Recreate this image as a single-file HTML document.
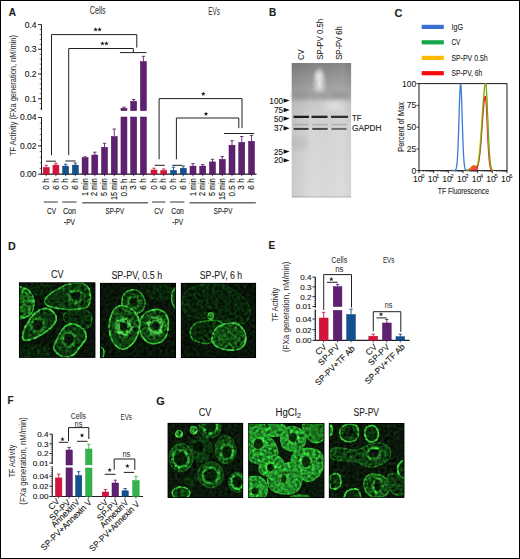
<!DOCTYPE html>
<html><head><meta charset="utf-8"><title>Figure</title>
<style>
html,body{margin:0;padding:0;background:#fff;}
svg{display:block;font-family:"Liberation Sans", sans-serif;}
text{stroke:currentColor;stroke-width:0.12px;}
text.lt{stroke:none;fill:#2a2a2a;}
text.rg{stroke:#1a1a1a;stroke-width:0.08px;fill:#1a1a1a;}
</style></head>
<body>
<svg width="520" height="559" viewBox="0 0 520 559" font-family='"Liberation Sans", sans-serif' fill="#231f20">
<rect x="0" y="0" width="520" height="559" fill="#fff"/>
<defs>
<filter id="soft" x="-30%" y="-30%" width="160%" height="160%"><feGaussianBlur stdDeviation="0.6"/></filter>
<filter id="soft2" x="-30%" y="-30%" width="160%" height="160%"><feGaussianBlur stdDeviation="1.3"/></filter>
</defs>
<text x="8.7" y="15.6" font-size="10" font-weight="bold">A</text>
<text x="89.7" y="14.4" font-size="10.4" textLength="16" lengthAdjust="spacingAndGlyphs" class="lt">Cells</text>
<text x="208.2" y="14.6" font-size="10.4" textLength="11.6" lengthAdjust="spacingAndGlyphs" class="lt">EVs</text>
<line x1="41.5" y1="24.6" x2="41.5" y2="110.2" stroke="#231f20" stroke-width="1.0"/>
<line x1="41.5" y1="117.3" x2="41.5" y2="174.4" stroke="#231f20" stroke-width="1.0"/>
<line x1="38" y1="24.6" x2="41.5" y2="24.6" stroke="#231f20" stroke-width="0.9"/>
<text x="36.5" y="27.5" font-size="8.5" text-anchor="end">0.4</text>
<line x1="38" y1="49.3" x2="41.5" y2="49.3" stroke="#231f20" stroke-width="0.9"/>
<text x="36.5" y="52.2" font-size="8.5" text-anchor="end">0.3</text>
<line x1="38" y1="74" x2="41.5" y2="74" stroke="#231f20" stroke-width="0.9"/>
<text x="36.5" y="76.9" font-size="8.5" text-anchor="end">0.2</text>
<line x1="38" y1="98.7" x2="41.5" y2="98.7" stroke="#231f20" stroke-width="0.9"/>
<text x="36.5" y="101.6" font-size="8.5" text-anchor="end">0.1</text>
<line x1="39.7" y1="24.6" x2="41.5" y2="24.6" stroke="#231f20" stroke-width="0.6"/>
<line x1="39.7" y1="29.54" x2="41.5" y2="29.54" stroke="#231f20" stroke-width="0.6"/>
<line x1="39.7" y1="34.48" x2="41.5" y2="34.48" stroke="#231f20" stroke-width="0.6"/>
<line x1="39.7" y1="39.42" x2="41.5" y2="39.42" stroke="#231f20" stroke-width="0.6"/>
<line x1="39.7" y1="44.36" x2="41.5" y2="44.36" stroke="#231f20" stroke-width="0.6"/>
<line x1="39.7" y1="49.3" x2="41.5" y2="49.3" stroke="#231f20" stroke-width="0.6"/>
<line x1="39.7" y1="54.24" x2="41.5" y2="54.24" stroke="#231f20" stroke-width="0.6"/>
<line x1="39.7" y1="59.18" x2="41.5" y2="59.18" stroke="#231f20" stroke-width="0.6"/>
<line x1="39.7" y1="64.12" x2="41.5" y2="64.12" stroke="#231f20" stroke-width="0.6"/>
<line x1="39.7" y1="69.06" x2="41.5" y2="69.06" stroke="#231f20" stroke-width="0.6"/>
<line x1="39.7" y1="74" x2="41.5" y2="74" stroke="#231f20" stroke-width="0.6"/>
<line x1="39.7" y1="78.94" x2="41.5" y2="78.94" stroke="#231f20" stroke-width="0.6"/>
<line x1="39.7" y1="83.88" x2="41.5" y2="83.88" stroke="#231f20" stroke-width="0.6"/>
<line x1="39.7" y1="88.82" x2="41.5" y2="88.82" stroke="#231f20" stroke-width="0.6"/>
<line x1="39.7" y1="93.76" x2="41.5" y2="93.76" stroke="#231f20" stroke-width="0.6"/>
<line x1="39.7" y1="98.7" x2="41.5" y2="98.7" stroke="#231f20" stroke-width="0.6"/>
<line x1="39.7" y1="103.64" x2="41.5" y2="103.64" stroke="#231f20" stroke-width="0.6"/>
<line x1="39.7" y1="108.58" x2="41.5" y2="108.58" stroke="#231f20" stroke-width="0.6"/>
<line x1="38" y1="117.5" x2="41.5" y2="117.5" stroke="#231f20" stroke-width="0.9"/>
<text x="36.5" y="120.4" font-size="8.5" text-anchor="end">0.04</text>
<line x1="38" y1="145.85" x2="41.5" y2="145.85" stroke="#231f20" stroke-width="0.9"/>
<text x="36.5" y="148.75" font-size="8.5" text-anchor="end">0.02</text>
<line x1="38" y1="174.2" x2="41.5" y2="174.2" stroke="#231f20" stroke-width="0.9"/>
<text x="36.5" y="177.1" font-size="8.5" text-anchor="end">0.00</text>
<line x1="39.7" y1="117.5" x2="41.5" y2="117.5" stroke="#231f20" stroke-width="0.6"/>
<line x1="39.7" y1="123.17" x2="41.5" y2="123.17" stroke="#231f20" stroke-width="0.6"/>
<line x1="39.7" y1="128.84" x2="41.5" y2="128.84" stroke="#231f20" stroke-width="0.6"/>
<line x1="39.7" y1="134.51" x2="41.5" y2="134.51" stroke="#231f20" stroke-width="0.6"/>
<line x1="39.7" y1="140.18" x2="41.5" y2="140.18" stroke="#231f20" stroke-width="0.6"/>
<line x1="39.7" y1="145.85" x2="41.5" y2="145.85" stroke="#231f20" stroke-width="0.6"/>
<line x1="39.7" y1="151.52" x2="41.5" y2="151.52" stroke="#231f20" stroke-width="0.6"/>
<line x1="39.7" y1="157.19" x2="41.5" y2="157.19" stroke="#231f20" stroke-width="0.6"/>
<line x1="39.7" y1="162.86" x2="41.5" y2="162.86" stroke="#231f20" stroke-width="0.6"/>
<line x1="39.7" y1="168.53" x2="41.5" y2="168.53" stroke="#231f20" stroke-width="0.6"/>
<line x1="39.7" y1="174.2" x2="41.5" y2="174.2" stroke="#231f20" stroke-width="0.6"/>
<text x="15.9" y="95.5" font-size="9.6" text-anchor="middle" textLength="121" lengthAdjust="spacingAndGlyphs" transform="rotate(-90 15.9 95.5)" class="lt">TF Activity (FXa generation, nM/min)</text>
<line x1="41.5" y1="174.2" x2="256.5" y2="174.2" stroke="#231f20" stroke-width="1.3"/>
<rect x="43.2" y="167.5" width="6" height="6.7" fill="#d3143c" stroke="#b80f31" stroke-width="0.5"/>
<line x1="46.2" y1="167.5" x2="46.2" y2="165.3" stroke="#d3143c" stroke-width="0.9"/>
<line x1="44.5" y1="165.3" x2="47.9" y2="165.3" stroke="#d3143c" stroke-width="0.9"/>
<line x1="46.2" y1="174.2" x2="46.2" y2="176.2" stroke="#231f20" stroke-width="0.8"/>
<text x="48.8" y="178.3" font-size="8.2" text-anchor="end" transform="rotate(-90 48.8 178.3)">0 h</text>
<rect x="52.92" y="165.1" width="6" height="9.1" fill="#d3143c" stroke="#b80f31" stroke-width="0.5"/>
<line x1="55.92" y1="165.1" x2="55.92" y2="163.3" stroke="#d3143c" stroke-width="0.9"/>
<line x1="54.22" y1="163.3" x2="57.62" y2="163.3" stroke="#d3143c" stroke-width="0.9"/>
<line x1="55.92" y1="174.2" x2="55.92" y2="176.2" stroke="#231f20" stroke-width="0.8"/>
<text x="58.52" y="178.3" font-size="8.2" text-anchor="end" transform="rotate(-90 58.52 178.3)">6 h</text>
<rect x="62.64" y="166.1" width="6" height="8.1" fill="#12508e" stroke="#0c3f73" stroke-width="0.5"/>
<line x1="65.64" y1="166.1" x2="65.64" y2="164.2" stroke="#12508e" stroke-width="0.9"/>
<line x1="63.94" y1="164.2" x2="67.34" y2="164.2" stroke="#12508e" stroke-width="0.9"/>
<line x1="65.64" y1="174.2" x2="65.64" y2="176.2" stroke="#231f20" stroke-width="0.8"/>
<text x="68.24" y="178.3" font-size="8.2" text-anchor="end" transform="rotate(-90 68.24 178.3)">0 h</text>
<rect x="72.36" y="165.1" width="6" height="9.1" fill="#12508e" stroke="#0c3f73" stroke-width="0.5"/>
<line x1="75.36" y1="165.1" x2="75.36" y2="163" stroke="#12508e" stroke-width="0.9"/>
<line x1="73.66" y1="163" x2="77.06" y2="163" stroke="#12508e" stroke-width="0.9"/>
<line x1="75.36" y1="174.2" x2="75.36" y2="176.2" stroke="#231f20" stroke-width="0.8"/>
<text x="77.96" y="178.3" font-size="8.2" text-anchor="end" transform="rotate(-90 77.96 178.3)">6 h</text>
<rect x="82.08" y="157.7" width="6" height="16.5" fill="#5e216f" stroke="#4b0d5e" stroke-width="0.5"/>
<line x1="85.08" y1="157.7" x2="85.08" y2="156.8" stroke="#5e216f" stroke-width="0.9"/>
<line x1="83.38" y1="156.8" x2="86.78" y2="156.8" stroke="#5e216f" stroke-width="0.9"/>
<line x1="85.08" y1="174.2" x2="85.08" y2="176.2" stroke="#231f20" stroke-width="0.8"/>
<text x="87.68" y="178.3" font-size="8.2" text-anchor="end" textLength="17.6" lengthAdjust="spacingAndGlyphs" transform="rotate(-90 87.68 178.3)">1 min</text>
<rect x="91.8" y="155" width="6" height="19.2" fill="#5e216f" stroke="#4b0d5e" stroke-width="0.5"/>
<line x1="94.8" y1="155" x2="94.8" y2="152.2" stroke="#5e216f" stroke-width="0.9"/>
<line x1="93.1" y1="152.2" x2="96.5" y2="152.2" stroke="#5e216f" stroke-width="0.9"/>
<line x1="94.8" y1="174.2" x2="94.8" y2="176.2" stroke="#231f20" stroke-width="0.8"/>
<text x="97.4" y="178.3" font-size="8.2" text-anchor="end" textLength="17.6" lengthAdjust="spacingAndGlyphs" transform="rotate(-90 97.4 178.3)">2 min</text>
<rect x="101.52" y="147.3" width="6" height="26.9" fill="#5e216f" stroke="#4b0d5e" stroke-width="0.5"/>
<line x1="104.52" y1="147.3" x2="104.52" y2="143.3" stroke="#5e216f" stroke-width="0.9"/>
<line x1="102.82" y1="143.3" x2="106.22" y2="143.3" stroke="#5e216f" stroke-width="0.9"/>
<line x1="104.52" y1="174.2" x2="104.52" y2="176.2" stroke="#231f20" stroke-width="0.8"/>
<text x="107.12" y="178.3" font-size="8.2" text-anchor="end" textLength="17.6" lengthAdjust="spacingAndGlyphs" transform="rotate(-90 107.12 178.3)">5 min</text>
<rect x="111.24" y="136.5" width="6" height="37.7" fill="#5e216f" stroke="#4b0d5e" stroke-width="0.5"/>
<line x1="114.24" y1="136.5" x2="114.24" y2="129" stroke="#5e216f" stroke-width="0.9"/>
<line x1="112.54" y1="129" x2="115.94" y2="129" stroke="#5e216f" stroke-width="0.9"/>
<line x1="114.24" y1="174.2" x2="114.24" y2="176.2" stroke="#231f20" stroke-width="0.8"/>
<text x="116.84" y="178.3" font-size="8.2" text-anchor="end" textLength="21.6" lengthAdjust="spacingAndGlyphs" transform="rotate(-90 116.84 178.3)">15 min</text>
<rect x="120.96" y="108.3" width="6" height="2.4" fill="#5e216f" stroke="#4b0d5e" stroke-width="0.5"/>
<rect x="120.96" y="117" width="6" height="57.2" fill="#5e216f" stroke="#4b0d5e" stroke-width="0.5"/>
<line x1="123.96" y1="108.3" x2="123.96" y2="107.2" stroke="#5e216f" stroke-width="0.9"/>
<line x1="122.26" y1="107.2" x2="125.66" y2="107.2" stroke="#5e216f" stroke-width="0.9"/>
<line x1="123.96" y1="174.2" x2="123.96" y2="176.2" stroke="#231f20" stroke-width="0.8"/>
<text x="126.56" y="178.3" font-size="8.2" text-anchor="end" transform="rotate(-90 126.56 178.3)">0.5 h</text>
<rect x="130.68" y="101.3" width="6" height="9.4" fill="#5e216f" stroke="#4b0d5e" stroke-width="0.5"/>
<rect x="130.68" y="117" width="6" height="57.2" fill="#5e216f" stroke="#4b0d5e" stroke-width="0.5"/>
<line x1="133.68" y1="101.3" x2="133.68" y2="99.5" stroke="#5e216f" stroke-width="0.9"/>
<line x1="131.98" y1="99.5" x2="135.38" y2="99.5" stroke="#5e216f" stroke-width="0.9"/>
<line x1="133.68" y1="174.2" x2="133.68" y2="176.2" stroke="#231f20" stroke-width="0.8"/>
<text x="136.28" y="178.3" font-size="8.2" text-anchor="end" transform="rotate(-90 136.28 178.3)">3 h</text>
<rect x="140.4" y="61.6" width="6" height="49.1" fill="#5e216f" stroke="#4b0d5e" stroke-width="0.5"/>
<rect x="140.4" y="117" width="6" height="57.2" fill="#5e216f" stroke="#4b0d5e" stroke-width="0.5"/>
<line x1="143.4" y1="61.6" x2="143.4" y2="56.3" stroke="#5e216f" stroke-width="0.9"/>
<line x1="141.7" y1="56.3" x2="145.1" y2="56.3" stroke="#5e216f" stroke-width="0.9"/>
<line x1="143.4" y1="174.2" x2="143.4" y2="176.2" stroke="#231f20" stroke-width="0.8"/>
<text x="146" y="178.3" font-size="8.2" text-anchor="end" transform="rotate(-90 146 178.3)">6 h</text>
<rect x="151" y="170" width="6" height="4.2" fill="#d3143c" stroke="#b80f31" stroke-width="0.5"/>
<line x1="154" y1="170" x2="154" y2="168.2" stroke="#d3143c" stroke-width="0.9"/>
<line x1="152.3" y1="168.2" x2="155.7" y2="168.2" stroke="#d3143c" stroke-width="0.9"/>
<line x1="154" y1="174.2" x2="154" y2="176.2" stroke="#231f20" stroke-width="0.8"/>
<text x="156.6" y="178.3" font-size="8.2" text-anchor="end" transform="rotate(-90 156.6 178.3)">0 h</text>
<rect x="160.75" y="170.5" width="6" height="3.7" fill="#d3143c" stroke="#b80f31" stroke-width="0.5"/>
<line x1="163.75" y1="170.5" x2="163.75" y2="169" stroke="#d3143c" stroke-width="0.9"/>
<line x1="162.05" y1="169" x2="165.45" y2="169" stroke="#d3143c" stroke-width="0.9"/>
<line x1="163.75" y1="174.2" x2="163.75" y2="176.2" stroke="#231f20" stroke-width="0.8"/>
<text x="166.35" y="178.3" font-size="8.2" text-anchor="end" transform="rotate(-90 166.35 178.3)">6 h</text>
<rect x="170.5" y="170.3" width="6" height="3.9" fill="#12508e" stroke="#0c3f73" stroke-width="0.5"/>
<line x1="173.5" y1="170.3" x2="173.5" y2="167.2" stroke="#12508e" stroke-width="0.9"/>
<line x1="171.8" y1="167.2" x2="175.2" y2="167.2" stroke="#12508e" stroke-width="0.9"/>
<line x1="173.5" y1="174.2" x2="173.5" y2="176.2" stroke="#231f20" stroke-width="0.8"/>
<text x="176.1" y="178.3" font-size="8.2" text-anchor="end" transform="rotate(-90 176.1 178.3)">0 h</text>
<rect x="180.25" y="168.2" width="6" height="6" fill="#12508e" stroke="#0c3f73" stroke-width="0.5"/>
<line x1="183.25" y1="168.2" x2="183.25" y2="166" stroke="#12508e" stroke-width="0.9"/>
<line x1="181.55" y1="166" x2="184.95" y2="166" stroke="#12508e" stroke-width="0.9"/>
<line x1="183.25" y1="174.2" x2="183.25" y2="176.2" stroke="#231f20" stroke-width="0.8"/>
<text x="185.85" y="178.3" font-size="8.2" text-anchor="end" transform="rotate(-90 185.85 178.3)">6 h</text>
<rect x="190" y="166.1" width="6" height="8.1" fill="#5e216f" stroke="#4b0d5e" stroke-width="0.5"/>
<line x1="193" y1="166.1" x2="193" y2="163.6" stroke="#5e216f" stroke-width="0.9"/>
<line x1="191.3" y1="163.6" x2="194.7" y2="163.6" stroke="#5e216f" stroke-width="0.9"/>
<line x1="193" y1="174.2" x2="193" y2="176.2" stroke="#231f20" stroke-width="0.8"/>
<text x="195.6" y="178.3" font-size="8.2" text-anchor="end" textLength="17.6" lengthAdjust="spacingAndGlyphs" transform="rotate(-90 195.6 178.3)">1 min</text>
<rect x="199.75" y="166.1" width="6" height="8.1" fill="#5e216f" stroke="#4b0d5e" stroke-width="0.5"/>
<line x1="202.75" y1="166.1" x2="202.75" y2="164.6" stroke="#5e216f" stroke-width="0.9"/>
<line x1="201.05" y1="164.6" x2="204.45" y2="164.6" stroke="#5e216f" stroke-width="0.9"/>
<line x1="202.75" y1="174.2" x2="202.75" y2="176.2" stroke="#231f20" stroke-width="0.8"/>
<text x="205.35" y="178.3" font-size="8.2" text-anchor="end" textLength="17.6" lengthAdjust="spacingAndGlyphs" transform="rotate(-90 205.35 178.3)">2 min</text>
<rect x="209.5" y="161.9" width="6" height="12.3" fill="#5e216f" stroke="#4b0d5e" stroke-width="0.5"/>
<line x1="212.5" y1="161.9" x2="212.5" y2="159.3" stroke="#5e216f" stroke-width="0.9"/>
<line x1="210.8" y1="159.3" x2="214.2" y2="159.3" stroke="#5e216f" stroke-width="0.9"/>
<line x1="212.5" y1="174.2" x2="212.5" y2="176.2" stroke="#231f20" stroke-width="0.8"/>
<text x="215.1" y="178.3" font-size="8.2" text-anchor="end" textLength="17.6" lengthAdjust="spacingAndGlyphs" transform="rotate(-90 215.1 178.3)">5 min</text>
<rect x="219.25" y="159.3" width="6" height="14.9" fill="#5e216f" stroke="#4b0d5e" stroke-width="0.5"/>
<line x1="222.25" y1="159.3" x2="222.25" y2="156.6" stroke="#5e216f" stroke-width="0.9"/>
<line x1="220.55" y1="156.6" x2="223.95" y2="156.6" stroke="#5e216f" stroke-width="0.9"/>
<line x1="222.25" y1="174.2" x2="222.25" y2="176.2" stroke="#231f20" stroke-width="0.8"/>
<text x="224.85" y="178.3" font-size="8.2" text-anchor="end" textLength="21.6" lengthAdjust="spacingAndGlyphs" transform="rotate(-90 224.85 178.3)">15 min</text>
<rect x="229" y="145.2" width="6" height="29" fill="#5e216f" stroke="#4b0d5e" stroke-width="0.5"/>
<line x1="232" y1="145.2" x2="232" y2="140.7" stroke="#5e216f" stroke-width="0.9"/>
<line x1="230.3" y1="140.7" x2="233.7" y2="140.7" stroke="#5e216f" stroke-width="0.9"/>
<line x1="232" y1="174.2" x2="232" y2="176.2" stroke="#231f20" stroke-width="0.8"/>
<text x="234.6" y="178.3" font-size="8.2" text-anchor="end" transform="rotate(-90 234.6 178.3)">0.5 h</text>
<rect x="238.75" y="142.4" width="6" height="31.8" fill="#5e216f" stroke="#4b0d5e" stroke-width="0.5"/>
<line x1="241.75" y1="142.4" x2="241.75" y2="136.5" stroke="#5e216f" stroke-width="0.9"/>
<line x1="240.05" y1="136.5" x2="243.45" y2="136.5" stroke="#5e216f" stroke-width="0.9"/>
<line x1="241.75" y1="174.2" x2="241.75" y2="176.2" stroke="#231f20" stroke-width="0.8"/>
<text x="244.35" y="178.3" font-size="8.2" text-anchor="end" transform="rotate(-90 244.35 178.3)">3 h</text>
<rect x="248.5" y="141.3" width="6" height="32.9" fill="#5e216f" stroke="#4b0d5e" stroke-width="0.5"/>
<line x1="251.5" y1="141.3" x2="251.5" y2="135.4" stroke="#5e216f" stroke-width="0.9"/>
<line x1="249.8" y1="135.4" x2="253.2" y2="135.4" stroke="#5e216f" stroke-width="0.9"/>
<line x1="251.5" y1="174.2" x2="251.5" y2="176.2" stroke="#231f20" stroke-width="0.8"/>
<text x="254.1" y="178.3" font-size="8.2" text-anchor="end" transform="rotate(-90 254.1 178.3)">6 h</text>
<polyline points="51.5,155.4 51.5,34.6 136.8,34.6 136.8,47.6" fill="none" stroke="#231f20" stroke-width="1.0"/>
<polyline points="68.7,155.2 68.7,48.5 133.3,48.5 133.3,52.4" fill="none" stroke="#231f20" stroke-width="1.0"/>
<line x1="119.9" y1="52.6" x2="146.5" y2="52.6" stroke="#231f20" stroke-width="1.0"/>
<line x1="46" y1="161.2" x2="55.9" y2="161.2" stroke="#231f20" stroke-width="1.0"/>
<line x1="65.4" y1="161" x2="75.6" y2="161" stroke="#231f20" stroke-width="1.0"/>
<polygon points="95.6,27.25 96.18,28.8 97.83,28.87 96.54,29.9 96.98,31.5 95.6,30.59 94.22,31.5 94.66,29.9 93.37,28.87 95.02,28.8" fill="#231f20"/>
<polygon points="99.6,27.25 100.18,28.8 101.83,28.87 100.54,29.9 100.98,31.5 99.6,30.59 98.22,31.5 98.66,29.9 97.37,28.87 99.02,28.8" fill="#231f20"/>
<polygon points="102.4,41.25 102.98,42.8 104.63,42.87 103.34,43.9 103.78,45.5 102.4,44.59 101.02,45.5 101.46,43.9 100.17,42.87 101.82,42.8" fill="#231f20"/>
<polygon points="106.4,41.25 106.98,42.8 108.63,42.87 107.34,43.9 107.78,45.5 106.4,44.59 105.02,45.5 105.46,43.9 104.17,42.87 105.82,42.8" fill="#231f20"/>
<polyline points="159.1,159.3 159.1,98.6 242,98.6 242,128.2" fill="none" stroke="#231f20" stroke-width="1.0"/>
<polyline points="176.4,159.3 176.4,118 238.8,118 238.8,128.2" fill="none" stroke="#231f20" stroke-width="1.0"/>
<line x1="224" y1="133.5" x2="254.2" y2="133.5" stroke="#231f20" stroke-width="1.0"/>
<line x1="154.7" y1="165.3" x2="164.8" y2="165.3" stroke="#231f20" stroke-width="1.0"/>
<line x1="172.2" y1="165.3" x2="182.2" y2="165.3" stroke="#231f20" stroke-width="1.0"/>
<polygon points="203.3,91.55 203.88,93.1 205.53,93.17 204.24,94.2 204.68,95.8 203.3,94.89 201.92,95.8 202.36,94.2 201.07,93.17 202.72,93.1" fill="#231f20"/>
<polygon points="206,111.55 206.58,113.1 208.23,113.17 206.94,114.2 207.38,115.8 206,114.89 204.62,115.8 205.06,114.2 203.77,113.17 205.42,113.1" fill="#231f20"/>
<line x1="43.8" y1="202" x2="57.9" y2="202" stroke="#222" stroke-width="0.9"/>
<line x1="62.3" y1="202" x2="76.5" y2="202" stroke="#222" stroke-width="0.9"/>
<line x1="152" y1="202" x2="165.4" y2="202" stroke="#222" stroke-width="0.9"/>
<line x1="170" y1="202" x2="184.3" y2="202" stroke="#222" stroke-width="0.9"/>
<line x1="82.3" y1="202.7" x2="148" y2="202.7" stroke="#6a6a6a" stroke-width="1.5"/>
<line x1="189.6" y1="202.7" x2="255.8" y2="202.7" stroke="#6a6a6a" stroke-width="1.5"/>
<text x="47" y="213.8" font-size="9.1" textLength="9" lengthAdjust="spacingAndGlyphs">CV</text>
<text x="63" y="213.8" font-size="9.1" textLength="13" lengthAdjust="spacingAndGlyphs">Con</text>
<text x="64" y="224.9" font-size="9.1" textLength="11" lengthAdjust="spacingAndGlyphs">-PV</text>
<text x="105.6" y="213.8" font-size="9.1" textLength="18.4" lengthAdjust="spacingAndGlyphs">SP-PV</text>
<text x="154.3" y="213.8" font-size="9.1" textLength="9.2" lengthAdjust="spacingAndGlyphs">CV</text>
<text x="171.2" y="213.8" font-size="9.1" textLength="12.6" lengthAdjust="spacingAndGlyphs">Con</text>
<text x="172.3" y="224.9" font-size="9.1" textLength="10.7" lengthAdjust="spacingAndGlyphs">-PV</text>
<text x="213.8" y="213.8" font-size="9.1" textLength="18.5" lengthAdjust="spacingAndGlyphs">SP-PV</text>
<text x="269" y="15.7" font-size="10" font-weight="bold">B</text>
<text x="303.8" y="60" font-size="9.9" textLength="10.6" lengthAdjust="spacingAndGlyphs" transform="rotate(-90 303.8 60)" class="rg">CV</text>
<text x="322.6" y="59.8" font-size="9.9" textLength="41" lengthAdjust="spacingAndGlyphs" transform="rotate(-90 322.6 59.8)" class="rg">SP-PV 0.5h</text>
<text x="341.6" y="59.8" font-size="9.9" textLength="33.6" lengthAdjust="spacingAndGlyphs" transform="rotate(-90 341.6 59.8)" class="rg">SP-PV 6h</text>
<defs>
<linearGradient id="blotg" x1="0" y1="0" x2="0" y2="1">
<stop offset="0" stop-color="#828282"/>
<stop offset="0.1" stop-color="#949494"/>
<stop offset="0.2" stop-color="#a4a4a4"/>
<stop offset="0.25" stop-color="#ababab"/>
<stop offset="0.3" stop-color="#c8c8c8"/>
<stop offset="0.38" stop-color="#d0d0d0"/>
<stop offset="0.5" stop-color="#d6d6d6"/>
<stop offset="1" stop-color="#dcdcdc"/>
</linearGradient>
<radialGradient id="blotw" cx="0.5" cy="0.5" r="0.5">
<stop offset="0" stop-color="#ececec" stop-opacity="0.95"/>
<stop offset="1" stop-color="#e0e0e0" stop-opacity="0"/>
</radialGradient>
<filter id="blur1" x="-20%" y="-20%" width="140%" height="140%"><feGaussianBlur stdDeviation="0.7"/></filter>
<filter id="blur2" x="-50%" y="-50%" width="200%" height="200%"><feGaussianBlur stdDeviation="2"/></filter>
</defs>
<rect x="291.7" y="63" width="59.4" height="134.6" fill="url(#blotg)"/>
<linearGradient id="blotl" x1="0" y1="0" x2="1" y2="0"><stop offset="0" stop-color="#000" stop-opacity="0.08"/><stop offset="0.35" stop-color="#000" stop-opacity="0"/><stop offset="0.85" stop-color="#fff" stop-opacity="0.05"/><stop offset="1" stop-color="#000" stop-opacity="0.03"/></linearGradient>
<rect x="291.7" y="63" width="59.4" height="134.6" fill="url(#blotl)"/>
<ellipse cx="300" cy="143" rx="9" ry="7" fill="#000" opacity="0.05" filter="url(#blur2)"/>
<rect x="291.7" y="196" width="59.4" height="1.6" fill="#000" opacity="0.1"/>
<ellipse cx="319.5" cy="84" rx="8" ry="19" fill="url(#blotw)"/>
<ellipse cx="319" cy="76" rx="6" ry="8" fill="url(#blotw)"/>
<ellipse cx="334" cy="106" rx="18" ry="9" fill="url(#blotw)" opacity="0.7"/>
<g filter="url(#blur2)" opacity="0.85">
<rect x="293" y="92.5" width="15.5" height="5.5" fill="#929292"/>
<rect x="311.5" y="92.5" width="15.5" height="5.5" fill="#929292"/>
<rect x="331" y="92.5" width="17" height="5.5" fill="#929292"/>
</g>
<g filter="url(#blur1)">
<rect x="293.5" y="115.7" width="15.5" height="2.3" fill="#1e1e1e"/>
<rect x="311.5" y="115.7" width="16.0" height="2.3" fill="#262626"/>
<rect x="331" y="115.7" width="17" height="2.3" fill="#333"/>
<rect x="293.7" y="127.9" width="14.800000000000011" height="2.0" fill="#3a3a3a"/>
<rect x="312.3" y="127.9" width="15.399999999999977" height="2.0" fill="#4a4a4a"/>
<rect x="331.5" y="127.9" width="15.0" height="2.0" fill="#6a6a6a"/>
<rect x="293.7" y="123.8" width="14.800000000000011" height="1.6" fill="#a0a0a0" opacity="0.7"/>
<rect x="312.3" y="123.8" width="15.399999999999977" height="1.6" fill="#a0a0a0" opacity="0.7"/>
<rect x="331.5" y="123.8" width="15.0" height="1.6" fill="#a0a0a0" opacity="0.7"/>
</g>
<text x="283" y="103.5" font-size="8.2" text-anchor="end">100</text>
<polygon points="283.6,98.4 289.6,100.6 283.6,102.8" fill="#111"/>
<text x="283" y="112.9" font-size="8.2" text-anchor="end">75</text>
<polygon points="283.6,107.8 289.6,110 283.6,112.2" fill="#111"/>
<text x="283" y="121.5" font-size="8.2" text-anchor="end">50</text>
<polygon points="283.6,116.4 289.6,118.6 283.6,120.8" fill="#111"/>
<text x="283" y="131.2" font-size="8.2" text-anchor="end">37</text>
<polygon points="283.6,126.1 289.6,128.3 283.6,130.5" fill="#111"/>
<text x="283" y="154.5" font-size="8.2" text-anchor="end">25</text>
<polygon points="283.6,149.4 289.6,151.6 283.6,153.8" fill="#111"/>
<text x="283" y="163.3" font-size="8.2" text-anchor="end">20</text>
<polygon points="283.6,158.2 289.6,160.4 283.6,162.6" fill="#111"/>
<text x="352" y="120.8" font-size="8.4" textLength="9.4" lengthAdjust="spacingAndGlyphs">TF</text>
<text x="352" y="130.7" font-size="8.4" textLength="29.5" lengthAdjust="spacingAndGlyphs">GAPDH</text>
<text x="394.4" y="16.7" font-size="10.9" font-weight="bold">C</text>
<rect x="421.7" y="24.8" width="22.1" height="4.2" fill="#3b6fd0"/>
<text x="451.4" y="29.8" font-size="8.4" textLength="11.6" lengthAdjust="spacingAndGlyphs" class="rg">IgG</text>
<rect x="421.7" y="40.2" width="22.1" height="4.2" fill="#12a84a"/>
<text x="451.4" y="45.2" font-size="8.4" textLength="9" lengthAdjust="spacingAndGlyphs" class="rg">CV</text>
<rect x="421.7" y="55.8" width="22.1" height="4.2" fill="#ffbb00"/>
<text x="451.4" y="60.8" font-size="8.4" textLength="36.3" lengthAdjust="spacingAndGlyphs" class="rg">SP-PV 0.5h</text>
<rect x="421.7" y="71.1" width="22.1" height="4.2" fill="#f80a0a"/>
<text x="451.4" y="76.1" font-size="8.4" textLength="31" lengthAdjust="spacingAndGlyphs" class="rg">SP-PV, 6h</text>
<rect x="419" y="83.6" width="88" height="87" fill="none" stroke="#1a1a1a" stroke-width="1"/>
<line x1="416.6" y1="83.6" x2="419" y2="83.6" stroke="#231f20" stroke-width="0.9"/>
<text x="416.3" y="86.6" font-size="8.6" text-anchor="end" class="rg">100</text>
<line x1="416.6" y1="105.4" x2="419" y2="105.4" stroke="#231f20" stroke-width="0.9"/>
<text x="416.3" y="108.4" font-size="8.6" text-anchor="end" class="rg">75</text>
<line x1="416.6" y1="127.2" x2="419" y2="127.2" stroke="#231f20" stroke-width="0.9"/>
<text x="416.3" y="130.2" font-size="8.6" text-anchor="end" class="rg">50</text>
<line x1="416.6" y1="149" x2="419" y2="149" stroke="#231f20" stroke-width="0.9"/>
<text x="416.3" y="152" font-size="8.6" text-anchor="end" class="rg">25</text>
<line x1="416.6" y1="170.6" x2="419" y2="170.6" stroke="#231f20" stroke-width="0.9"/>
<text x="416.3" y="173.6" font-size="8.6" text-anchor="end" class="rg">0</text>
<text x="404.4" y="126.9" font-size="9.4" text-anchor="middle" textLength="49.7" lengthAdjust="spacingAndGlyphs" transform="rotate(-90 404.4 126.9)" class="rg">Percent of Max</text>
<line x1="419" y1="170.6" x2="419" y2="173.2" stroke="#231f20" stroke-width="0.9"/>
<line x1="423.42" y1="170.6" x2="423.42" y2="172" stroke="#231f20" stroke-width="0.5"/>
<line x1="426" y1="170.6" x2="426" y2="172" stroke="#231f20" stroke-width="0.5"/>
<line x1="427.83" y1="170.6" x2="427.83" y2="172" stroke="#231f20" stroke-width="0.5"/>
<line x1="429.25" y1="170.6" x2="429.25" y2="172" stroke="#231f20" stroke-width="0.5"/>
<line x1="430.41" y1="170.6" x2="430.41" y2="172" stroke="#231f20" stroke-width="0.5"/>
<line x1="431.4" y1="170.6" x2="431.4" y2="172" stroke="#231f20" stroke-width="0.5"/>
<line x1="432.25" y1="170.6" x2="432.25" y2="172" stroke="#231f20" stroke-width="0.5"/>
<line x1="433" y1="170.6" x2="433" y2="172" stroke="#231f20" stroke-width="0.5"/>
<text x="417.8" y="182" font-size="8.6" text-anchor="middle" class="rg">10</text>
<text x="422.9" y="178.4" font-size="5.8" text-anchor="middle" class="rg">0</text>
<line x1="433.67" y1="170.6" x2="433.67" y2="173.2" stroke="#231f20" stroke-width="0.9"/>
<line x1="438.08" y1="170.6" x2="438.08" y2="172" stroke="#231f20" stroke-width="0.5"/>
<line x1="440.66" y1="170.6" x2="440.66" y2="172" stroke="#231f20" stroke-width="0.5"/>
<line x1="442.5" y1="170.6" x2="442.5" y2="172" stroke="#231f20" stroke-width="0.5"/>
<line x1="443.92" y1="170.6" x2="443.92" y2="172" stroke="#231f20" stroke-width="0.5"/>
<line x1="445.08" y1="170.6" x2="445.08" y2="172" stroke="#231f20" stroke-width="0.5"/>
<line x1="446.06" y1="170.6" x2="446.06" y2="172" stroke="#231f20" stroke-width="0.5"/>
<line x1="446.91" y1="170.6" x2="446.91" y2="172" stroke="#231f20" stroke-width="0.5"/>
<line x1="447.66" y1="170.6" x2="447.66" y2="172" stroke="#231f20" stroke-width="0.5"/>
<text x="432.47" y="182" font-size="8.6" text-anchor="middle" class="rg">10</text>
<text x="437.57" y="178.4" font-size="5.8" text-anchor="middle" class="rg">1</text>
<line x1="448.33" y1="170.6" x2="448.33" y2="173.2" stroke="#231f20" stroke-width="0.9"/>
<line x1="452.75" y1="170.6" x2="452.75" y2="172" stroke="#231f20" stroke-width="0.5"/>
<line x1="455.33" y1="170.6" x2="455.33" y2="172" stroke="#231f20" stroke-width="0.5"/>
<line x1="457.16" y1="170.6" x2="457.16" y2="172" stroke="#231f20" stroke-width="0.5"/>
<line x1="458.59" y1="170.6" x2="458.59" y2="172" stroke="#231f20" stroke-width="0.5"/>
<line x1="459.75" y1="170.6" x2="459.75" y2="172" stroke="#231f20" stroke-width="0.5"/>
<line x1="460.73" y1="170.6" x2="460.73" y2="172" stroke="#231f20" stroke-width="0.5"/>
<line x1="461.58" y1="170.6" x2="461.58" y2="172" stroke="#231f20" stroke-width="0.5"/>
<line x1="462.33" y1="170.6" x2="462.33" y2="172" stroke="#231f20" stroke-width="0.5"/>
<text x="447.13" y="182" font-size="8.6" text-anchor="middle" class="rg">10</text>
<text x="452.23" y="178.4" font-size="5.8" text-anchor="middle" class="rg">2</text>
<line x1="463" y1="170.6" x2="463" y2="173.2" stroke="#231f20" stroke-width="0.9"/>
<line x1="467.42" y1="170.6" x2="467.42" y2="172" stroke="#231f20" stroke-width="0.5"/>
<line x1="470" y1="170.6" x2="470" y2="172" stroke="#231f20" stroke-width="0.5"/>
<line x1="471.83" y1="170.6" x2="471.83" y2="172" stroke="#231f20" stroke-width="0.5"/>
<line x1="473.25" y1="170.6" x2="473.25" y2="172" stroke="#231f20" stroke-width="0.5"/>
<line x1="474.41" y1="170.6" x2="474.41" y2="172" stroke="#231f20" stroke-width="0.5"/>
<line x1="475.4" y1="170.6" x2="475.4" y2="172" stroke="#231f20" stroke-width="0.5"/>
<line x1="476.25" y1="170.6" x2="476.25" y2="172" stroke="#231f20" stroke-width="0.5"/>
<line x1="477" y1="170.6" x2="477" y2="172" stroke="#231f20" stroke-width="0.5"/>
<text x="461.8" y="182" font-size="8.6" text-anchor="middle" class="rg">10</text>
<text x="466.9" y="178.4" font-size="5.8" text-anchor="middle" class="rg">3</text>
<line x1="477.67" y1="170.6" x2="477.67" y2="173.2" stroke="#231f20" stroke-width="0.9"/>
<line x1="482.08" y1="170.6" x2="482.08" y2="172" stroke="#231f20" stroke-width="0.5"/>
<line x1="484.67" y1="170.6" x2="484.67" y2="172" stroke="#231f20" stroke-width="0.5"/>
<line x1="486.5" y1="170.6" x2="486.5" y2="172" stroke="#231f20" stroke-width="0.5"/>
<line x1="487.92" y1="170.6" x2="487.92" y2="172" stroke="#231f20" stroke-width="0.5"/>
<line x1="489.08" y1="170.6" x2="489.08" y2="172" stroke="#231f20" stroke-width="0.5"/>
<line x1="490.06" y1="170.6" x2="490.06" y2="172" stroke="#231f20" stroke-width="0.5"/>
<line x1="490.91" y1="170.6" x2="490.91" y2="172" stroke="#231f20" stroke-width="0.5"/>
<line x1="491.66" y1="170.6" x2="491.66" y2="172" stroke="#231f20" stroke-width="0.5"/>
<text x="476.47" y="182" font-size="8.6" text-anchor="middle" class="rg">10</text>
<text x="481.57" y="178.4" font-size="5.8" text-anchor="middle" class="rg">4</text>
<line x1="492.33" y1="170.6" x2="492.33" y2="173.2" stroke="#231f20" stroke-width="0.9"/>
<line x1="496.75" y1="170.6" x2="496.75" y2="172" stroke="#231f20" stroke-width="0.5"/>
<line x1="499.33" y1="170.6" x2="499.33" y2="172" stroke="#231f20" stroke-width="0.5"/>
<line x1="501.17" y1="170.6" x2="501.17" y2="172" stroke="#231f20" stroke-width="0.5"/>
<line x1="502.59" y1="170.6" x2="502.59" y2="172" stroke="#231f20" stroke-width="0.5"/>
<line x1="503.75" y1="170.6" x2="503.75" y2="172" stroke="#231f20" stroke-width="0.5"/>
<line x1="504.73" y1="170.6" x2="504.73" y2="172" stroke="#231f20" stroke-width="0.5"/>
<line x1="505.58" y1="170.6" x2="505.58" y2="172" stroke="#231f20" stroke-width="0.5"/>
<line x1="506.33" y1="170.6" x2="506.33" y2="172" stroke="#231f20" stroke-width="0.5"/>
<text x="491.13" y="182" font-size="8.6" text-anchor="middle" class="rg">10</text>
<text x="496.23" y="178.4" font-size="5.8" text-anchor="middle" class="rg">5</text>
<line x1="507" y1="170.6" x2="507" y2="173.2" stroke="#231f20" stroke-width="0.9"/>
<text x="505.8" y="182" font-size="8.6" text-anchor="middle" class="rg">10</text>
<text x="510.9" y="178.4" font-size="5.8" text-anchor="middle" class="rg">6</text>
<text x="463.4" y="194" font-size="9.4" text-anchor="middle" textLength="51.1" lengthAdjust="spacingAndGlyphs" class="rg">TF Fluorescence</text>
<polyline points="452,170.4 452.25,170.4 452.5,170.4 452.75,170.4 453,170.4 453.25,170.4 453.5,170.4 453.75,170.39 454,170.38 454.25,170.37 454.5,170.34 454.75,170.29 455,170.21 455.25,170.08 455.5,169.86 455.75,169.53 456,169.01 456.25,168.25 456.5,167.16 456.75,165.62 457,163.52 457.25,160.74 457.5,157.16 457.75,152.7 458,147.3 458.25,140.98 458.5,133.85 458.75,126.07 459,117.94 459.25,109.81 459.5,102.11 459.75,95.28 460,89.77 460.25,85.95 460.5,84.07 460.75,84.28 461,86.56 461.25,90.75 461.5,96.56 461.75,103.59 462,111.41 462.25,119.57 462.5,127.66 462.75,135.33 463,142.32 463.25,148.45 463.5,153.66 463.75,157.94 464,161.35 464.25,163.99 464.5,165.97 464.75,167.41 465,168.43 465.25,169.13 465.5,169.6 465.75,169.91 466,170.11 466.25,170.23 466.5,170.3 466.75,170.35 467,170.37 467.25,170.38 467.5,170.39 467.75,170.4 468,170.4 468.25,170.4 468.5,170.4 468.75,170.4 469,170.4 469.25,170.4" fill="none" stroke="#3a7bd5" stroke-width="1.3" stroke-linejoin="round"/>
<g>
<polyline points="466,170.28 466.25,170.25 466.5,170.21 466.75,170.17 467,170.12 467.25,170.06 467.5,169.99 467.75,169.91 468,169.81 468.25,169.71 468.5,169.59 468.75,169.46 469,169.32 469.25,169.17 469.5,169 469.75,168.81 470,168.62 470.25,168.42 470.5,168.21 470.75,167.99 471,167.78 471.25,167.56 471.5,167.34 471.75,167.14 472,166.94 472.25,166.75 472.5,166.58 472.75,166.43 473,166.31 473.25,166.21 473.5,166.13 473.75,166.09 474,166.08 474.25,166.09 474.5,166.13 474.75,166.21 475,166.31 475.25,166.43 475.5,166.58 475.75,166.75 476,166.94 476.25,167.14 476.5,167.34 476.75,167.56 477,167.78 477.25,167.27 477.5,166.61 477.75,165.82 478,164.92 478.25,163.86 478.5,162.66 478.75,161.29 479,159.74 479.25,158.01 479.5,156.08 479.75,153.95 480,151.63 480.25,149.1 480.5,146.38 480.75,143.47 481,140.4 481.25,137.18 481.5,133.84 481.75,130.41 482,126.92 482.25,123.41 482.5,119.94 482.75,116.53 483,113.25 483.25,110.13 483.5,107.23 483.75,104.59 484,102.26 484.25,100.28 484.5,98.68 484.75,97.48 485,96.72 485.25,96.41 485.5,96.77 485.75,98.25 486,100.8 486.25,104.29 486.5,108.59 486.75,113.5 487,118.84 487.25,124.39 487.5,129.99 487.75,135.46 488,140.65 488.25,145.47 488.5,149.83 488.75,153.69 489,157.03 489.25,159.88 489.5,162.24 489.75,164.17 490,165.72 490.25,166.94 490.5,167.88 490.75,168.59 491,169.13 491.25,169.51 491.5,169.79 491.75,169.99 492,170.13 492.25,170.22 492.5,170.29 492.75,170.33 493,170.36 493.25,170.37" fill="none" stroke="#ff1a1a" stroke-width="1.4" stroke-linejoin="round"/>
<polyline points="466,170.28 466.25,170.25 466.5,170.21 466.75,170.17 467,170.12 467.25,170.06 467.5,169.99 467.75,169.91 468,169.81 468.25,169.71 468.5,169.59 468.75,169.46 469,169.32 469.25,169.17 469.5,169 469.75,168.81 470,168.62 470.25,168.42 470.5,168.21 470.75,167.99 471,167.78 471.25,167.56 471.5,167.34 471.75,167.14 472,166.94 472.25,166.75 472.5,166.58 472.75,166.43 473,166.31 473.25,166.21 473.5,166.13 473.75,166.09 474,166.08 474.25,166.09 474.5,166.13 474.75,166.21 475,166.31 475.25,166.43 475.5,166.58 475.75,166.75 476,166.94 476.25,167.14 476.5,167.22 476.75,166.59 477,165.85 477.25,165 477.5,164.03 477.75,162.92 478,161.66 478.25,160.24 478.5,158.65 478.75,156.88 479,154.93 479.25,152.78 479.5,150.43 479.75,147.89 480,145.15 480.25,142.22 480.5,139.11 480.75,135.84 481,132.42 481.25,128.87 481.5,125.22 481.75,121.51 482,117.75 482.25,114 482.5,110.28 482.75,106.65 483,103.14 483.25,99.8 483.5,96.68 483.75,93.8 484,91.22 484.25,88.96 484.5,87.07 484.75,85.57 485,84.48 485.25,83.82 485.5,83.6 485.75,84.16 486,85.81 486.25,88.5 486.5,92.12 486.75,96.54 487,101.6 487.25,107.14 487.5,112.98 487.75,118.95 488,124.89 488.25,130.66 488.5,136.14 488.75,141.25 489,145.91 489.25,150.09 489.5,153.78 489.75,156.97 490,159.68 490.25,161.96 490.5,163.84 490.75,165.37 491,166.59 491.25,167.55 491.5,168.29 491.75,168.87 492,169.3 492.25,169.62 492.5,169.85 492.75,170.02 493,170.14 493.25,170.22" fill="none" stroke="#ffbb00" stroke-width="1.3" stroke-linejoin="round"/>
<polyline points="466,170.28 466.25,170.25 466.5,170.21 466.75,170.17 467,170.12 467.25,170.06 467.5,169.99 467.75,169.91 468,169.81 468.25,169.71 468.5,169.59 468.75,169.46 469,169.32 469.25,169.17 469.5,169 469.75,168.81 470,168.62 470.25,168.42 470.5,168.21 470.75,167.99 471,167.78 471.25,167.56 471.5,167.34 471.75,167.14 472,166.94 472.25,166.75 472.5,166.58 472.75,166.43 473,166.31 473.25,166.21 473.5,166.13 473.75,166.09 474,166.08 474.25,166.09 474.5,166.13 474.75,166.21 475,166.31 475.25,166.43 475.5,166.58 475.75,166.75 476,166.94 476.25,167.14 476.5,167.34 476.75,167.56 477,167.71 477.25,167.13 477.5,166.44 477.75,165.63 478,164.69 478.25,163.61 478.5,162.37 478.75,160.95 479,159.35 479.25,157.55 479.5,155.54 479.75,153.32 480,150.87 480.25,148.21 480.5,145.32 480.75,142.22 481,138.92 481.25,135.43 481.5,131.78 481.75,128 482,124.1 482.25,120.14 482.5,116.16 482.75,112.19 483,108.29 483.25,104.51 483.5,100.9 483.75,97.51 484,94.39 484.25,91.59 484.5,89.15 484.75,87.12 485,85.53 485.25,84.4 485.5,83.76 485.75,83.62 486,84.48 486.25,86.53 486.5,89.68 486.75,93.8 487,98.74 487.25,104.3 487.5,110.28 487.75,116.5 488,122.75 488.25,128.87 488.5,134.72 488.75,140.17 489,145.15 489.25,149.6 489.5,153.52 489.75,156.88 490,159.73 490.25,162.1 490.5,164.03 490.75,165.58 491,166.81 491.25,167.76 491.5,168.49 491.75,169.03 492,169.44 492.25,169.73 492.5,169.94 492.75,170.09 493,170.19 493.25,170.26" fill="none" stroke="#12a84a" stroke-width="0.8" stroke-linejoin="round"/>
<path d="M469,170.2 Q472,168.5 473.5,165.5 L474.5,167 Q476,166 478,165 L478,170.2 Z" fill="#ff1a1a" opacity="0.8"/>
</g>
<text x="7.9" y="249.6" font-size="10.7" font-weight="bold">D</text>
<text x="50.9" y="277.5" font-size="10" textLength="12.6" lengthAdjust="spacingAndGlyphs" class="rg">CV</text>
<text x="111.4" y="278.5" font-size="10" textLength="50.8" lengthAdjust="spacingAndGlyphs" class="rg">SP-PV, 0.5 h</text>
<text x="199.8" y="278.5" font-size="10" textLength="42.3" lengthAdjust="spacingAndGlyphs" class="rg">SP-PV, 6 h</text>
<clipPath id="d1"><rect x="19" y="282.5" width="76.3" height="75.2"/></clipPath>
<filter id="td1" filterUnits="userSpaceOnUse" x="19" y="282.5" width="76.3" height="75.2" color-interpolation-filters="sRGB">
<feGaussianBlur in="SourceGraphic" stdDeviation="0.55" result="b"/>
<feTurbulence type="fractalNoise" baseFrequency="0.32" numOctaves="2" seed="3" result="n"/>
<feColorMatrix in="n" type="matrix" values="0.33 0.33 0.33 0 0  0.33 0.33 0.33 0 0  0.33 0.33 0.33 0 0  0 0 0 0 1" result="g"/>
<feComponentTransfer in="g" result="g2"><feFuncR type="linear" slope="2.5600000000000005" intercept="-0.7800000000000002"/><feFuncG type="linear" slope="2.5600000000000005" intercept="-0.7800000000000002"/><feFuncB type="linear" slope="2.5600000000000005" intercept="-0.7800000000000002"/></feComponentTransfer>
<feComposite in="b" in2="g2" operator="arithmetic" k1="1.9" k2="0.05" k3="0" k4="0" result="c"/>
<feGaussianBlur in="c" stdDeviation="0.35" result="cb"/>
<feColorMatrix in="cb" type="matrix" values="0.85 0 0 0 0  0 0.85 0 0 0  0 0 0.85 0 0  0 0 0 1 0"/>
</filter>
<g clip-path="url(#d1)"><g filter="url(#td1)">
<rect x="19" y="282.5" width="76.3" height="75.2" fill="#0a180a"/>
<ellipse cx="35" cy="352" rx="17" ry="8" fill="#0a2a0b" fill-opacity="1"/>
<ellipse cx="38" cy="289" rx="14" ry="7" fill="#0a2a0b" fill-opacity="1"/>
<path d="M63.6,314.8 C64.47,312.93 67.42,311.37 70.6,310.5 C73.78,309.63 79.25,308.88 82.7,309.6 C86.15,310.32 90,312.2 91.3,314.8 C92.6,317.4 91.65,322.88 90.5,325.2 C89.35,327.52 87.15,328.42 84.4,328.7 C81.65,328.98 77.17,328.07 74,326.9 C70.83,325.73 67.13,323.72 65.4,321.7 C63.67,319.68 62.73,316.67 63.6,314.8Z" fill="#0c340d" fill-opacity="1"/>
<path d="M63.6,314.8 C64.47,312.93 67.42,311.37 70.6,310.5 C73.78,309.63 79.25,308.88 82.7,309.6 C86.15,310.32 90,312.2 91.3,314.8 C92.6,317.4 91.65,322.88 90.5,325.2 C89.35,327.52 87.15,328.42 84.4,328.7 C81.65,328.98 77.17,328.07 74,326.9 C70.83,325.73 67.13,323.72 65.4,321.7 C63.67,319.68 62.73,316.67 63.6,314.8Z" fill="none" stroke="#1a6a1b" stroke-width="1.03" filter="url(#soft)"/>
<path d="M44.6,301 C45.03,299.12 47.48,296.03 49.8,294 C52.12,291.97 55.62,290.38 58.5,288.8 C61.38,287.22 63.65,285.5 67.1,284.5 C70.55,283.5 75.73,282.37 79.2,282.8 C82.67,283.23 86.02,284.65 87.9,287.1 C89.78,289.55 90.5,294.32 90.5,297.5 C90.5,300.68 89.78,304.33 87.9,306.2 C86.02,308.07 82.95,308.13 79.2,308.7 C75.45,309.27 69.43,309.73 65.4,309.6 C61.37,309.47 58.03,308.62 55,307.9 C51.97,307.18 48.93,306.45 47.2,305.3 C45.47,304.15 44.17,302.88 44.6,301Z" fill="#0f3f11" fill-opacity="1"/>
<ellipse cx="75.8" cy="295.8" rx="6.6" ry="6.1" fill="none" stroke="#2a9a2a" stroke-width="3" filter="url(#soft2)"/>
<ellipse cx="75.8" cy="295.8" rx="4.5" ry="4" fill="#071c07" filter="url(#soft)"/>
<path d="M44.6,301 C45.03,299.12 47.48,296.03 49.8,294 C52.12,291.97 55.62,290.38 58.5,288.8 C61.38,287.22 63.65,285.5 67.1,284.5 C70.55,283.5 75.73,282.37 79.2,282.8 C82.67,283.23 86.02,284.65 87.9,287.1 C89.78,289.55 90.5,294.32 90.5,297.5 C90.5,300.68 89.78,304.33 87.9,306.2 C86.02,308.07 82.95,308.13 79.2,308.7 C75.45,309.27 69.43,309.73 65.4,309.6 C61.37,309.47 58.03,308.62 55,307.9 C51.97,307.18 48.93,306.45 47.2,305.3 C45.47,304.15 44.17,302.88 44.6,301Z" fill="none" stroke="#35c035" stroke-width="1.61" filter="url(#soft)"/>
<path d="M17,288.8 C18.72,284.33 24.72,288.53 27.3,289.7 C29.88,290.87 31.35,293.35 32.5,295.8 C33.65,298.25 34.35,301.52 34.2,304.4 C34.05,307.28 33.03,310.93 31.6,313.1 C30.17,315.27 28.03,316.83 25.6,317.4 C23.17,317.97 18.43,321.27 17,316.5 C15.57,311.73 15.28,293.27 17,288.8Z" fill="#1c7a1d" fill-opacity="1"/>
<path d="M17,288.8 C18.72,284.33 24.72,288.53 27.3,289.7 C29.88,290.87 31.35,293.35 32.5,295.8 C33.65,298.25 34.35,301.52 34.2,304.4 C34.05,307.28 33.03,310.93 31.6,313.1 C30.17,315.27 28.03,316.83 25.6,317.4 C23.17,317.97 18.43,321.27 17,316.5 C15.57,311.73 15.28,293.27 17,288.8Z" fill="none" stroke="#3fcf3f" stroke-width="1.38" filter="url(#soft)"/>
<path d="M27.3,323.5 C29.33,320.47 32.53,314.67 36,312.2 C39.47,309.73 44.78,307.98 48.1,308.7 C51.42,309.42 55.03,313.75 55.9,316.5 C56.77,319.25 55.75,322.17 53.3,325.2 C50.85,328.23 45.25,332.25 41.2,334.7 C37.15,337.15 32.03,339.18 29,339.9 C25.97,340.62 23.87,340.58 23,339 C22.13,337.42 23.08,332.98 23.8,330.4 C24.52,327.82 25.27,326.53 27.3,323.5Z" fill="#0f3f11" fill-opacity="1"/>
<ellipse cx="37.7" cy="325.2" rx="6.6" ry="7.1" fill="none" stroke="#2aa02a" stroke-width="3" filter="url(#soft2)"/>
<ellipse cx="37.7" cy="325.2" rx="4.5" ry="5" fill="#071c07" filter="url(#soft)"/>
<path d="M27.3,323.5 C29.33,320.47 32.53,314.67 36,312.2 C39.47,309.73 44.78,307.98 48.1,308.7 C51.42,309.42 55.03,313.75 55.9,316.5 C56.77,319.25 55.75,322.17 53.3,325.2 C50.85,328.23 45.25,332.25 41.2,334.7 C37.15,337.15 32.03,339.18 29,339.9 C25.97,340.62 23.87,340.58 23,339 C22.13,337.42 23.08,332.98 23.8,330.4 C24.52,327.82 25.27,326.53 27.3,323.5Z" fill="none" stroke="#3ccc3c" stroke-width="1.84" filter="url(#soft)"/>
<path d="M55,343.4 C56.3,340.23 59.6,333.58 61.9,330.4 C64.2,327.22 65.62,324.87 68.8,324.3 C71.98,323.73 78.1,324.83 81,327 C83.9,329.17 86.5,333.85 86.2,337.3 C85.9,340.75 81.52,344.67 79.2,347.7 C76.88,350.73 75.18,354.07 72.3,355.5 C69.42,356.93 64.93,357.32 61.9,356.3 C58.87,355.28 55.25,351.55 54.1,349.4 C52.95,347.25 53.7,346.57 55,343.4Z" fill="#0f3f11" fill-opacity="1"/>
<ellipse cx="68.8" cy="339" rx="6.6" ry="7.1" fill="none" stroke="#2aa02a" stroke-width="3" filter="url(#soft2)"/>
<ellipse cx="68.8" cy="339" rx="4.5" ry="5" fill="#071c07" filter="url(#soft)"/>
<path d="M55,343.4 C56.3,340.23 59.6,333.58 61.9,330.4 C64.2,327.22 65.62,324.87 68.8,324.3 C71.98,323.73 78.1,324.83 81,327 C83.9,329.17 86.5,333.85 86.2,337.3 C85.9,340.75 81.52,344.67 79.2,347.7 C76.88,350.73 75.18,354.07 72.3,355.5 C69.42,356.93 64.93,357.32 61.9,356.3 C58.87,355.28 55.25,351.55 54.1,349.4 C52.95,347.25 53.7,346.57 55,343.4Z" fill="none" stroke="#3ccc3c" stroke-width="1.72" filter="url(#soft)"/>
</g>
<g opacity="0.38" filter="url(#soft)">
<path d="M63.6,314.8 C64.47,312.93 67.42,311.37 70.6,310.5 C73.78,309.63 79.25,308.88 82.7,309.6 C86.15,310.32 90,312.2 91.3,314.8 C92.6,317.4 91.65,322.88 90.5,325.2 C89.35,327.52 87.15,328.42 84.4,328.7 C81.65,328.98 77.17,328.07 74,326.9 C70.83,325.73 67.13,323.72 65.4,321.7 C63.67,319.68 62.73,316.67 63.6,314.8Z" fill="none" stroke="#1a6a1b" stroke-width="0.9"/>
<path d="M44.6,301 C45.03,299.12 47.48,296.03 49.8,294 C52.12,291.97 55.62,290.38 58.5,288.8 C61.38,287.22 63.65,285.5 67.1,284.5 C70.55,283.5 75.73,282.37 79.2,282.8 C82.67,283.23 86.02,284.65 87.9,287.1 C89.78,289.55 90.5,294.32 90.5,297.5 C90.5,300.68 89.78,304.33 87.9,306.2 C86.02,308.07 82.95,308.13 79.2,308.7 C75.45,309.27 69.43,309.73 65.4,309.6 C61.37,309.47 58.03,308.62 55,307.9 C51.97,307.18 48.93,306.45 47.2,305.3 C45.47,304.15 44.17,302.88 44.6,301Z" fill="none" stroke="#35c035" stroke-width="1.4"/>
<path d="M17,288.8 C18.72,284.33 24.72,288.53 27.3,289.7 C29.88,290.87 31.35,293.35 32.5,295.8 C33.65,298.25 34.35,301.52 34.2,304.4 C34.05,307.28 33.03,310.93 31.6,313.1 C30.17,315.27 28.03,316.83 25.6,317.4 C23.17,317.97 18.43,321.27 17,316.5 C15.57,311.73 15.28,293.27 17,288.8Z" fill="none" stroke="#3fcf3f" stroke-width="1.2"/>
<path d="M27.3,323.5 C29.33,320.47 32.53,314.67 36,312.2 C39.47,309.73 44.78,307.98 48.1,308.7 C51.42,309.42 55.03,313.75 55.9,316.5 C56.77,319.25 55.75,322.17 53.3,325.2 C50.85,328.23 45.25,332.25 41.2,334.7 C37.15,337.15 32.03,339.18 29,339.9 C25.97,340.62 23.87,340.58 23,339 C22.13,337.42 23.08,332.98 23.8,330.4 C24.52,327.82 25.27,326.53 27.3,323.5Z" fill="none" stroke="#3ccc3c" stroke-width="1.6"/>
<path d="M55,343.4 C56.3,340.23 59.6,333.58 61.9,330.4 C64.2,327.22 65.62,324.87 68.8,324.3 C71.98,323.73 78.1,324.83 81,327 C83.9,329.17 86.5,333.85 86.2,337.3 C85.9,340.75 81.52,344.67 79.2,347.7 C76.88,350.73 75.18,354.07 72.3,355.5 C69.42,356.93 64.93,357.32 61.9,356.3 C58.87,355.28 55.25,351.55 54.1,349.4 C52.95,347.25 53.7,346.57 55,343.4Z" fill="none" stroke="#3ccc3c" stroke-width="1.5"/>
</g></g>
<rect x="19.4" y="282.9" width="75.5" height="74.4" fill="none" stroke="#000" stroke-width="0.9" stroke-opacity="0.85"/>
<clipPath id="d2"><rect x="100" y="282.9" width="75.9" height="75.1"/></clipPath>
<filter id="td2" filterUnits="userSpaceOnUse" x="100" y="282.9" width="75.9" height="75.1" color-interpolation-filters="sRGB">
<feGaussianBlur in="SourceGraphic" stdDeviation="0.55" result="b"/>
<feTurbulence type="fractalNoise" baseFrequency="0.32" numOctaves="2" seed="7" result="n"/>
<feColorMatrix in="n" type="matrix" values="0.33 0.33 0.33 0 0  0.33 0.33 0.33 0 0  0.33 0.33 0.33 0 0  0 0 0 0 1" result="g"/>
<feComponentTransfer in="g" result="g2"><feFuncR type="linear" slope="2.5600000000000005" intercept="-0.7800000000000002"/><feFuncG type="linear" slope="2.5600000000000005" intercept="-0.7800000000000002"/><feFuncB type="linear" slope="2.5600000000000005" intercept="-0.7800000000000002"/></feComponentTransfer>
<feComposite in="b" in2="g2" operator="arithmetic" k1="1.9" k2="0.05" k3="0" k4="0" result="c"/>
<feGaussianBlur in="c" stdDeviation="0.35" result="cb"/>
<feColorMatrix in="cb" type="matrix" values="0.88 0 0 0 0  0 0.88 0 0 0  0 0 0.88 0 0  0 0 0 1 0"/>
</filter>
<g clip-path="url(#d2)"><g filter="url(#td2)">
<rect x="100" y="282.9" width="75.9" height="75.1" fill="#0a180a"/>
<ellipse cx="160" cy="292" rx="14" ry="9" fill="#0a2a0b" fill-opacity="1"/>
<path d="M121.8,300.8 C121.95,298.27 123,295.4 124.5,293.6 C126,291.8 128.57,290.45 130.8,290 C133.03,289.55 135.82,289.85 137.9,290.9 C139.98,291.95 142.1,294.2 143.3,296.3 C144.5,298.4 145.25,301.12 145.1,303.5 C144.95,305.88 143.75,308.97 142.4,310.6 C141.05,312.23 139.08,313 137,313.3 C134.92,313.6 132.13,313.15 129.9,312.4 C127.67,311.65 124.95,310.73 123.6,308.8 C122.25,306.87 121.65,303.33 121.8,300.8Z" fill="#0e3a10" fill-opacity="1"/>
<ellipse cx="133.5" cy="302" rx="5.75" ry="5.75" fill="none" stroke="#2a9a2a" stroke-width="2.5" filter="url(#soft2)"/>
<ellipse cx="133.5" cy="302" rx="4" ry="4" fill="#071c07" filter="url(#soft)"/>
<path d="M121.8,300.8 C121.95,298.27 123,295.4 124.5,293.6 C126,291.8 128.57,290.45 130.8,290 C133.03,289.55 135.82,289.85 137.9,290.9 C139.98,291.95 142.1,294.2 143.3,296.3 C144.5,298.4 145.25,301.12 145.1,303.5 C144.95,305.88 143.75,308.97 142.4,310.6 C141.05,312.23 139.08,313 137,313.3 C134.92,313.6 132.13,313.15 129.9,312.4 C127.67,311.65 124.95,310.73 123.6,308.8 C122.25,306.87 121.65,303.33 121.8,300.8Z" fill="none" stroke="#2fb52f" stroke-width="1.38" filter="url(#soft)"/>
<path d="M110.2,318.7 C110.95,315.72 112.45,311.78 113.8,309.7 C115.15,307.62 116.37,306.78 118.3,306.2 C120.23,305.62 123.02,305.62 125.4,306.2 C127.78,306.78 130.52,307.92 132.6,309.7 C134.68,311.48 136.72,314.22 137.9,316.9 C139.08,319.58 139.85,322.52 139.7,325.8 C139.55,329.08 138.48,333.32 137,336.6 C135.52,339.88 133.03,343.42 130.8,345.5 C128.57,347.58 125.98,348.95 123.6,349.1 C121.22,349.25 118.58,348.18 116.5,346.4 C114.42,344.62 112.3,341.53 111.1,338.4 C109.9,335.27 109.45,330.88 109.3,327.6 C109.15,324.32 109.45,321.68 110.2,318.7Z" fill="#134e14" fill-opacity="1"/>
<ellipse cx="123.6" cy="326.7" rx="6.72" ry="7.22" fill="none" stroke="#4ad04a" stroke-width="4.6" filter="url(#soft2)"/>
<ellipse cx="123.6" cy="326.7" rx="3.5" ry="4" fill="#071c07" filter="url(#soft)"/>
<path d="M110.2,318.7 C110.95,315.72 112.45,311.78 113.8,309.7 C115.15,307.62 116.37,306.78 118.3,306.2 C120.23,305.62 123.02,305.62 125.4,306.2 C127.78,306.78 130.52,307.92 132.6,309.7 C134.68,311.48 136.72,314.22 137.9,316.9 C139.08,319.58 139.85,322.52 139.7,325.8 C139.55,329.08 138.48,333.32 137,336.6 C135.52,339.88 133.03,343.42 130.8,345.5 C128.57,347.58 125.98,348.95 123.6,349.1 C121.22,349.25 118.58,348.18 116.5,346.4 C114.42,344.62 112.3,341.53 111.1,338.4 C109.9,335.27 109.45,330.88 109.3,327.6 C109.15,324.32 109.45,321.68 110.2,318.7Z" fill="none" stroke="#3ccc3c" stroke-width="1.61" filter="url(#soft)"/>
<path d="M139.7,322.3 C140.15,319.32 141.5,317.05 143.3,315.1 C145.1,313.15 147.82,311.5 150.5,310.6 C153.18,309.7 156.72,308.95 159.4,309.7 C162.08,310.45 165.1,312.72 166.6,315.1 C168.1,317.48 168.4,320.72 168.4,324 C168.4,327.28 167.8,331.82 166.6,334.8 C165.4,337.78 163.58,340.42 161.2,341.9 C158.82,343.38 154.98,344 152.3,343.7 C149.62,343.4 147.05,341.88 145.1,340.1 C143.15,338.32 141.5,335.97 140.6,333 C139.7,330.03 139.25,325.28 139.7,322.3Z" fill="#134e14" fill-opacity="1"/>
<ellipse cx="155.8" cy="325.8" rx="6.72" ry="7.22" fill="none" stroke="#4ad04a" stroke-width="4.6" filter="url(#soft2)"/>
<ellipse cx="155.8" cy="325.8" rx="3.5" ry="4" fill="#071c07" filter="url(#soft)"/>
<path d="M139.7,322.3 C140.15,319.32 141.5,317.05 143.3,315.1 C145.1,313.15 147.82,311.5 150.5,310.6 C153.18,309.7 156.72,308.95 159.4,309.7 C162.08,310.45 165.1,312.72 166.6,315.1 C168.1,317.48 168.4,320.72 168.4,324 C168.4,327.28 167.8,331.82 166.6,334.8 C165.4,337.78 163.58,340.42 161.2,341.9 C158.82,343.38 154.98,344 152.3,343.7 C149.62,343.4 147.05,341.88 145.1,340.1 C143.15,338.32 141.5,335.97 140.6,333 C139.7,330.03 139.25,325.28 139.7,322.3Z" fill="none" stroke="#3ccc3c" stroke-width="1.61" filter="url(#soft)"/>
<ellipse cx="178" cy="298" rx="6.5" ry="11" fill="#0f3f11" fill-opacity="1"/>
<ellipse cx="178" cy="298" rx="6.5" ry="11" fill="none" stroke="#3ccc3c" stroke-width="1.3"/>
<ellipse cx="100.5" cy="353" rx="3.5" ry="6" fill="#0f3f11" fill-opacity="1"/>
<ellipse cx="100.5" cy="353" rx="3.5" ry="6" fill="none" stroke="#3ccc3c" stroke-width="1.2"/>
</g>
<g opacity="0.4" filter="url(#soft)">
<path d="M121.8,300.8 C121.95,298.27 123,295.4 124.5,293.6 C126,291.8 128.57,290.45 130.8,290 C133.03,289.55 135.82,289.85 137.9,290.9 C139.98,291.95 142.1,294.2 143.3,296.3 C144.5,298.4 145.25,301.12 145.1,303.5 C144.95,305.88 143.75,308.97 142.4,310.6 C141.05,312.23 139.08,313 137,313.3 C134.92,313.6 132.13,313.15 129.9,312.4 C127.67,311.65 124.95,310.73 123.6,308.8 C122.25,306.87 121.65,303.33 121.8,300.8Z" fill="none" stroke="#2fb52f" stroke-width="1.2"/>
<path d="M110.2,318.7 C110.95,315.72 112.45,311.78 113.8,309.7 C115.15,307.62 116.37,306.78 118.3,306.2 C120.23,305.62 123.02,305.62 125.4,306.2 C127.78,306.78 130.52,307.92 132.6,309.7 C134.68,311.48 136.72,314.22 137.9,316.9 C139.08,319.58 139.85,322.52 139.7,325.8 C139.55,329.08 138.48,333.32 137,336.6 C135.52,339.88 133.03,343.42 130.8,345.5 C128.57,347.58 125.98,348.95 123.6,349.1 C121.22,349.25 118.58,348.18 116.5,346.4 C114.42,344.62 112.3,341.53 111.1,338.4 C109.9,335.27 109.45,330.88 109.3,327.6 C109.15,324.32 109.45,321.68 110.2,318.7Z" fill="none" stroke="#3ccc3c" stroke-width="1.4"/>
<path d="M139.7,322.3 C140.15,319.32 141.5,317.05 143.3,315.1 C145.1,313.15 147.82,311.5 150.5,310.6 C153.18,309.7 156.72,308.95 159.4,309.7 C162.08,310.45 165.1,312.72 166.6,315.1 C168.1,317.48 168.4,320.72 168.4,324 C168.4,327.28 167.8,331.82 166.6,334.8 C165.4,337.78 163.58,340.42 161.2,341.9 C158.82,343.38 154.98,344 152.3,343.7 C149.62,343.4 147.05,341.88 145.1,340.1 C143.15,338.32 141.5,335.97 140.6,333 C139.7,330.03 139.25,325.28 139.7,322.3Z" fill="none" stroke="#3ccc3c" stroke-width="1.4"/>
<ellipse cx="178" cy="298" rx="6.5" ry="11" fill="none" stroke="#3ccc3c" stroke-width="1.3"/>
<ellipse cx="100.5" cy="353" rx="3.5" ry="6" fill="none" stroke="#3ccc3c" stroke-width="1.2"/>
</g></g>
<rect x="100.4" y="283.3" width="75.1" height="74.3" fill="none" stroke="#000" stroke-width="0.9" stroke-opacity="0.85"/>
<clipPath id="d3"><rect x="180.9" y="282.9" width="75.1" height="75.1"/></clipPath>
<filter id="td3" filterUnits="userSpaceOnUse" x="180.9" y="282.9" width="75.1" height="75.1" color-interpolation-filters="sRGB">
<feGaussianBlur in="SourceGraphic" stdDeviation="0.55" result="b"/>
<feTurbulence type="fractalNoise" baseFrequency="0.32" numOctaves="2" seed="11" result="n"/>
<feColorMatrix in="n" type="matrix" values="0.33 0.33 0.33 0 0  0.33 0.33 0.33 0 0  0.33 0.33 0.33 0 0  0 0 0 0 1" result="g"/>
<feComponentTransfer in="g" result="g2"><feFuncR type="linear" slope="2.5600000000000005" intercept="-0.7800000000000002"/><feFuncG type="linear" slope="2.5600000000000005" intercept="-0.7800000000000002"/><feFuncB type="linear" slope="2.5600000000000005" intercept="-0.7800000000000002"/></feComponentTransfer>
<feComposite in="b" in2="g2" operator="arithmetic" k1="1.9" k2="0.05" k3="0" k4="0" result="c"/>
<feGaussianBlur in="c" stdDeviation="0.35" result="cb"/>
<feColorMatrix in="cb" type="matrix" values="0.85 0 0 0 0  0 0.85 0 0 0  0 0 0.85 0 0  0 0 0 1 0"/>
</filter>
<g clip-path="url(#d3)"><g filter="url(#td3)">
<rect x="180.9" y="282.9" width="75.1" height="75.1" fill="#0a180a"/>
<path d="M182.2,300.8 C182.5,297.52 183.62,294.18 185.7,291.8 C187.78,289.42 191.12,287.83 194.7,286.5 C198.28,285.17 202.73,284.1 207.2,283.8 C211.67,283.5 217.03,283.67 221.5,284.7 C225.97,285.73 230.12,287.62 234,290 C237.88,292.38 242.12,295.72 244.8,299 C247.48,302.28 249.5,306.42 250.1,309.7 C250.7,312.98 249.58,316.32 248.4,318.7 C247.22,321.08 245.4,323.4 243,324 C240.6,324.6 237.58,322.88 234,322.3 C230.42,321.72 225.97,321.1 221.5,320.5 C217.03,319.9 211.97,319.3 207.2,318.7 C202.43,318.1 196.78,318.1 192.9,316.9 C189.02,315.7 185.68,314.18 183.9,311.5 C182.12,308.82 181.9,304.08 182.2,300.8Z" fill="#0a2a0b" fill-opacity="1"/>
<path d="M182.2,300.8 C182.5,297.52 183.62,294.18 185.7,291.8 C187.78,289.42 191.12,287.83 194.7,286.5 C198.28,285.17 202.73,284.1 207.2,283.8 C211.67,283.5 217.03,283.67 221.5,284.7 C225.97,285.73 230.12,287.62 234,290 C237.88,292.38 242.12,295.72 244.8,299 C247.48,302.28 249.5,306.42 250.1,309.7 C250.7,312.98 249.58,316.32 248.4,318.7 C247.22,321.08 245.4,323.4 243,324 C240.6,324.6 237.58,322.88 234,322.3 C230.42,321.72 225.97,321.1 221.5,320.5 C217.03,319.9 211.97,319.3 207.2,318.7 C202.43,318.1 196.78,318.1 192.9,316.9 C189.02,315.7 185.68,314.18 183.9,311.5 C182.12,308.82 181.9,304.08 182.2,300.8Z" fill="none" stroke="#124a13" stroke-width="1.15" filter="url(#soft)"/>
<path d="M190.2,331.2 C190.65,328.8 192.47,325.63 194.7,324 C196.93,322.37 200.32,321.98 203.6,321.4 C206.88,320.82 211.27,320.22 214.4,320.5 C217.53,320.78 221.52,321.92 222.4,323.1 C223.28,324.28 220.88,325.95 219.7,327.6 C218.52,329.25 216.33,330.92 215.3,333 C214.27,335.08 214.85,338.32 213.5,340.1 C212.15,341.88 209.73,343.4 207.2,343.7 C204.67,344 200.83,342.78 198.3,341.9 C195.77,341.02 193.35,340.18 192,338.4 C190.65,336.62 189.75,333.6 190.2,331.2Z" fill="#0b300c" fill-opacity="1"/>
<path d="M190.2,331.2 C190.65,328.8 192.47,325.63 194.7,324 C196.93,322.37 200.32,321.98 203.6,321.4 C206.88,320.82 211.27,320.22 214.4,320.5 C217.53,320.78 221.52,321.92 222.4,323.1 C223.28,324.28 220.88,325.95 219.7,327.6 C218.52,329.25 216.33,330.92 215.3,333 C214.27,335.08 214.85,338.32 213.5,340.1 C212.15,341.88 209.73,343.4 207.2,343.7 C204.67,344 200.83,342.78 198.3,341.9 C195.77,341.02 193.35,340.18 192,338.4 C190.65,336.62 189.75,333.6 190.2,331.2Z" fill="none" stroke="#229a24" stroke-width="1.38" filter="url(#soft)"/>
<path d="M212.6,334.8 C213.33,332.42 214.92,329.4 217,327.6 C219.08,325.8 222.27,324.75 225.1,324 C227.93,323.25 231.32,322.65 234,323.1 C236.68,323.55 239.25,324.75 241.2,326.7 C243.15,328.65 245.1,331.97 245.7,334.8 C246.3,337.63 245.85,341.32 244.8,343.7 C243.75,346.08 242.08,348.05 239.4,349.1 C236.72,350.15 232.28,350.3 228.7,350 C225.12,349.7 220.58,348.65 217.9,347.3 C215.22,345.95 213.48,343.98 212.6,341.9 C211.72,339.82 211.87,337.18 212.6,334.8Z" fill="#166017" fill-opacity="1"/>
<path d="M212.6,334.8 C213.33,332.42 214.92,329.4 217,327.6 C219.08,325.8 222.27,324.75 225.1,324 C227.93,323.25 231.32,322.65 234,323.1 C236.68,323.55 239.25,324.75 241.2,326.7 C243.15,328.65 245.1,331.97 245.7,334.8 C246.3,337.63 245.85,341.32 244.8,343.7 C243.75,346.08 242.08,348.05 239.4,349.1 C236.72,350.15 232.28,350.3 228.7,350 C225.12,349.7 220.58,348.65 217.9,347.3 C215.22,345.95 213.48,343.98 212.6,341.9 C211.72,339.82 211.87,337.18 212.6,334.8Z" fill="none" stroke="#3cc83c" stroke-width="1.61" filter="url(#soft)"/>
<ellipse cx="210.8" cy="316" rx="3" ry="3.5" fill="#2aa02a" fill-opacity="1"/>
<ellipse cx="210.8" cy="316" rx="3" ry="3.5" fill="none" stroke="#40d040" stroke-width="1"/>
</g>
<g opacity="0.38" filter="url(#soft)">
<path d="M182.2,300.8 C182.5,297.52 183.62,294.18 185.7,291.8 C187.78,289.42 191.12,287.83 194.7,286.5 C198.28,285.17 202.73,284.1 207.2,283.8 C211.67,283.5 217.03,283.67 221.5,284.7 C225.97,285.73 230.12,287.62 234,290 C237.88,292.38 242.12,295.72 244.8,299 C247.48,302.28 249.5,306.42 250.1,309.7 C250.7,312.98 249.58,316.32 248.4,318.7 C247.22,321.08 245.4,323.4 243,324 C240.6,324.6 237.58,322.88 234,322.3 C230.42,321.72 225.97,321.1 221.5,320.5 C217.03,319.9 211.97,319.3 207.2,318.7 C202.43,318.1 196.78,318.1 192.9,316.9 C189.02,315.7 185.68,314.18 183.9,311.5 C182.12,308.82 181.9,304.08 182.2,300.8Z" fill="none" stroke="#124a13" stroke-width="1"/>
<path d="M190.2,331.2 C190.65,328.8 192.47,325.63 194.7,324 C196.93,322.37 200.32,321.98 203.6,321.4 C206.88,320.82 211.27,320.22 214.4,320.5 C217.53,320.78 221.52,321.92 222.4,323.1 C223.28,324.28 220.88,325.95 219.7,327.6 C218.52,329.25 216.33,330.92 215.3,333 C214.27,335.08 214.85,338.32 213.5,340.1 C212.15,341.88 209.73,343.4 207.2,343.7 C204.67,344 200.83,342.78 198.3,341.9 C195.77,341.02 193.35,340.18 192,338.4 C190.65,336.62 189.75,333.6 190.2,331.2Z" fill="none" stroke="#229a24" stroke-width="1.2"/>
<path d="M212.6,334.8 C213.33,332.42 214.92,329.4 217,327.6 C219.08,325.8 222.27,324.75 225.1,324 C227.93,323.25 231.32,322.65 234,323.1 C236.68,323.55 239.25,324.75 241.2,326.7 C243.15,328.65 245.1,331.97 245.7,334.8 C246.3,337.63 245.85,341.32 244.8,343.7 C243.75,346.08 242.08,348.05 239.4,349.1 C236.72,350.15 232.28,350.3 228.7,350 C225.12,349.7 220.58,348.65 217.9,347.3 C215.22,345.95 213.48,343.98 212.6,341.9 C211.72,339.82 211.87,337.18 212.6,334.8Z" fill="none" stroke="#3cc83c" stroke-width="1.4"/>
<ellipse cx="210.8" cy="316" rx="3" ry="3.5" fill="none" stroke="#40d040" stroke-width="1"/>
</g></g>
<rect x="181.3" y="283.3" width="74.3" height="74.3" fill="none" stroke="#000" stroke-width="0.9" stroke-opacity="0.85"/>
<text x="268.5" y="249.3" font-size="10" font-weight="bold">E</text>
<text x="331.3" y="263.1" font-size="9.2" textLength="16" lengthAdjust="spacingAndGlyphs" class="lt">Cells</text>
<text x="382.9" y="262.7" font-size="9.2" textLength="11.5" lengthAdjust="spacingAndGlyphs" class="lt">EVs</text>
<text x="335.2" y="272" font-size="9.2" textLength="8.3" lengthAdjust="spacingAndGlyphs" class="lt">ns</text>
<text x="384.8" y="308.3" font-size="9.2" textLength="7.7" lengthAdjust="spacingAndGlyphs" class="lt">ns</text>
<line x1="315.4" y1="277.1" x2="315.4" y2="307.9" stroke="#231f20" stroke-width="1.0"/>
<line x1="315.4" y1="309.8" x2="315.4" y2="340.4" stroke="#231f20" stroke-width="1.0"/>
<line x1="312.4" y1="277.1" x2="315.4" y2="277.1" stroke="#231f20" stroke-width="0.9"/>
<text x="311.6" y="279.9" font-size="8.1" text-anchor="end">0.4</text>
<line x1="312.4" y1="286.9" x2="315.4" y2="286.9" stroke="#231f20" stroke-width="0.9"/>
<text x="311.6" y="289.7" font-size="8.1" text-anchor="end">0.3</text>
<line x1="312.4" y1="296.7" x2="315.4" y2="296.7" stroke="#231f20" stroke-width="0.9"/>
<text x="311.6" y="299.5" font-size="8.1" text-anchor="end">0.2</text>
<line x1="312.4" y1="306.5" x2="315.4" y2="306.5" stroke="#231f20" stroke-width="0.9"/>
<text x="311.6" y="309.3" font-size="8.1" text-anchor="end">0.01</text>
<line x1="312.4" y1="319" x2="315.4" y2="319" stroke="#231f20" stroke-width="0.9"/>
<text x="311.6" y="321.8" font-size="8.1" text-anchor="end">0.04</text>
<line x1="312.4" y1="329.7" x2="315.4" y2="329.7" stroke="#231f20" stroke-width="0.9"/>
<text x="311.6" y="332.5" font-size="8.1" text-anchor="end">0.02</text>
<line x1="312.4" y1="340.4" x2="315.4" y2="340.4" stroke="#231f20" stroke-width="0.9"/>
<text x="311.6" y="343.2" font-size="8.1" text-anchor="end">0.00</text>
<line x1="313.8" y1="277.1" x2="315.4" y2="277.1" stroke="#231f20" stroke-width="0.5"/>
<line x1="313.8" y1="279.06" x2="315.4" y2="279.06" stroke="#231f20" stroke-width="0.5"/>
<line x1="313.8" y1="281.02" x2="315.4" y2="281.02" stroke="#231f20" stroke-width="0.5"/>
<line x1="313.8" y1="282.98" x2="315.4" y2="282.98" stroke="#231f20" stroke-width="0.5"/>
<line x1="313.8" y1="284.94" x2="315.4" y2="284.94" stroke="#231f20" stroke-width="0.5"/>
<line x1="313.8" y1="286.9" x2="315.4" y2="286.9" stroke="#231f20" stroke-width="0.5"/>
<line x1="313.8" y1="288.86" x2="315.4" y2="288.86" stroke="#231f20" stroke-width="0.5"/>
<line x1="313.8" y1="290.82" x2="315.4" y2="290.82" stroke="#231f20" stroke-width="0.5"/>
<line x1="313.8" y1="292.78" x2="315.4" y2="292.78" stroke="#231f20" stroke-width="0.5"/>
<line x1="313.8" y1="294.74" x2="315.4" y2="294.74" stroke="#231f20" stroke-width="0.5"/>
<line x1="313.8" y1="296.7" x2="315.4" y2="296.7" stroke="#231f20" stroke-width="0.5"/>
<line x1="313.8" y1="298.66" x2="315.4" y2="298.66" stroke="#231f20" stroke-width="0.5"/>
<line x1="313.8" y1="300.62" x2="315.4" y2="300.62" stroke="#231f20" stroke-width="0.5"/>
<line x1="313.8" y1="302.58" x2="315.4" y2="302.58" stroke="#231f20" stroke-width="0.5"/>
<line x1="313.8" y1="304.54" x2="315.4" y2="304.54" stroke="#231f20" stroke-width="0.5"/>
<line x1="313.8" y1="306.5" x2="315.4" y2="306.5" stroke="#231f20" stroke-width="0.5"/>
<line x1="313.8" y1="309.9" x2="315.4" y2="309.9" stroke="#231f20" stroke-width="0.5"/>
<line x1="313.8" y1="312.04" x2="315.4" y2="312.04" stroke="#231f20" stroke-width="0.5"/>
<line x1="313.8" y1="314.18" x2="315.4" y2="314.18" stroke="#231f20" stroke-width="0.5"/>
<line x1="313.8" y1="316.32" x2="315.4" y2="316.32" stroke="#231f20" stroke-width="0.5"/>
<line x1="313.8" y1="318.46" x2="315.4" y2="318.46" stroke="#231f20" stroke-width="0.5"/>
<line x1="313.8" y1="320.6" x2="315.4" y2="320.6" stroke="#231f20" stroke-width="0.5"/>
<line x1="313.8" y1="322.74" x2="315.4" y2="322.74" stroke="#231f20" stroke-width="0.5"/>
<line x1="313.8" y1="324.88" x2="315.4" y2="324.88" stroke="#231f20" stroke-width="0.5"/>
<line x1="313.8" y1="327.02" x2="315.4" y2="327.02" stroke="#231f20" stroke-width="0.5"/>
<line x1="313.8" y1="329.16" x2="315.4" y2="329.16" stroke="#231f20" stroke-width="0.5"/>
<line x1="313.8" y1="331.3" x2="315.4" y2="331.3" stroke="#231f20" stroke-width="0.5"/>
<line x1="313.8" y1="333.44" x2="315.4" y2="333.44" stroke="#231f20" stroke-width="0.5"/>
<line x1="313.8" y1="335.58" x2="315.4" y2="335.58" stroke="#231f20" stroke-width="0.5"/>
<line x1="313.8" y1="337.72" x2="315.4" y2="337.72" stroke="#231f20" stroke-width="0.5"/>
<line x1="313.8" y1="339.86" x2="315.4" y2="339.86" stroke="#231f20" stroke-width="0.5"/>
<text x="278.2" y="304.8" font-size="8.4" text-anchor="middle" textLength="34" lengthAdjust="spacingAndGlyphs" transform="rotate(-90 278.2 304.8)" class="lt">TF Activity</text>
<text x="288.7" y="306.8" font-size="8.4" text-anchor="middle" textLength="90.5" lengthAdjust="spacingAndGlyphs" transform="rotate(-90 288.7 306.8)" class="lt">(FXa generation, nM/min)</text>
<line x1="315.4" y1="340.4" x2="409.6" y2="340.4" stroke="#231f20" stroke-width="1.2"/>
<rect x="319.2" y="318" width="8.9" height="22.4" fill="#d3143c" stroke="#b80f31" stroke-width="0.5"/>
<line x1="323.65" y1="318" x2="323.65" y2="312.3" stroke="#d3143c" stroke-width="0.9"/>
<line x1="321.95" y1="312.3" x2="325.35" y2="312.3" stroke="#d3143c" stroke-width="0.9"/>
<rect x="333.3" y="286.7" width="8.6" height="19.8" fill="#5e216f" stroke="#4b0d5e" stroke-width="0.5"/>
<rect x="333.3" y="310.4" width="8.6" height="30" fill="#5e216f" stroke="#4b0d5e" stroke-width="0.5"/>
<line x1="337.6" y1="286.7" x2="337.6" y2="284.4" stroke="#5e216f" stroke-width="0.9"/>
<line x1="335.9" y1="284.4" x2="339.3" y2="284.4" stroke="#5e216f" stroke-width="0.9"/>
<rect x="346.7" y="314.6" width="8.7" height="25.8" fill="#12508e" stroke="#0c3f73" stroke-width="0.5"/>
<line x1="351.05" y1="314.6" x2="351.05" y2="309.2" stroke="#12508e" stroke-width="0.9"/>
<line x1="349.35" y1="309.2" x2="352.75" y2="309.2" stroke="#12508e" stroke-width="0.9"/>
<rect x="368.8" y="336.2" width="8.9" height="4.2" fill="#d3143c" stroke="#b80f31" stroke-width="0.5"/>
<line x1="373.25" y1="336.2" x2="373.25" y2="334.2" stroke="#d3143c" stroke-width="0.9"/>
<line x1="371.55" y1="334.2" x2="374.95" y2="334.2" stroke="#d3143c" stroke-width="0.9"/>
<rect x="382.5" y="323" width="8.7" height="17.4" fill="#5e216f" stroke="#4b0d5e" stroke-width="0.5"/>
<line x1="386.85" y1="323" x2="386.85" y2="319.4" stroke="#5e216f" stroke-width="0.9"/>
<line x1="385.15" y1="319.4" x2="388.55" y2="319.4" stroke="#5e216f" stroke-width="0.9"/>
<rect x="396" y="336.7" width="8.6" height="3.7" fill="#12508e" stroke="#0c3f73" stroke-width="0.5"/>
<line x1="400.3" y1="336.7" x2="400.3" y2="334.2" stroke="#12508e" stroke-width="0.9"/>
<line x1="398.6" y1="334.2" x2="402" y2="334.2" stroke="#12508e" stroke-width="0.9"/>
<line x1="323.6" y1="340.4" x2="323.6" y2="342.4" stroke="#231f20" stroke-width="0.8"/>
<line x1="337.6" y1="340.4" x2="337.6" y2="342.4" stroke="#231f20" stroke-width="0.8"/>
<line x1="351" y1="340.4" x2="351" y2="342.4" stroke="#231f20" stroke-width="0.8"/>
<line x1="373.2" y1="340.4" x2="373.2" y2="342.4" stroke="#231f20" stroke-width="0.8"/>
<line x1="386.8" y1="340.4" x2="386.8" y2="342.4" stroke="#231f20" stroke-width="0.8"/>
<line x1="400.3" y1="340.4" x2="400.3" y2="342.4" stroke="#231f20" stroke-width="0.8"/>
<polyline points="323.7,310 323.7,274.6 351.5,274.6 351.5,307.5" fill="none" stroke="#231f20" stroke-width="1.0"/>
<line x1="326.9" y1="282.3" x2="337.7" y2="282.3" stroke="#231f20" stroke-width="1.0"/>
<polygon points="331.3,276.85 331.88,278.4 333.53,278.47 332.24,279.5 332.68,281.1 331.3,280.19 329.92,281.1 330.36,279.5 329.07,278.47 330.72,278.4" fill="#231f20"/>
<polyline points="373.3,331.3 373.3,311.7 400.8,311.7 400.8,332" fill="none" stroke="#231f20" stroke-width="1.0"/>
<line x1="376.5" y1="317.9" x2="386.7" y2="317.9" stroke="#231f20" stroke-width="1.0"/>
<polygon points="381,311.95 381.58,313.5 383.23,313.57 381.94,314.6 382.38,316.2 381,315.29 379.62,316.2 380.06,314.6 378.77,313.57 380.42,313.5" fill="#231f20"/>
<text x="327.2" y="347.3" font-size="8.6" text-anchor="end" textLength="12" lengthAdjust="spacingAndGlyphs" transform="rotate(-45 327.2 347.3)">CV</text>
<text x="340" y="347.5" font-size="8.6" text-anchor="end" textLength="26" lengthAdjust="spacingAndGlyphs" transform="rotate(-45 340 347.5)">SP-PV</text>
<text x="355.4" y="349.2" font-size="8.6" text-anchor="end" textLength="52" lengthAdjust="spacingAndGlyphs" transform="rotate(-45 355.4 349.2)">SP-PV+TF Ab</text>
<text x="377.5" y="347.5" font-size="8.6" text-anchor="end" textLength="12" lengthAdjust="spacingAndGlyphs" transform="rotate(-45 377.5 347.5)">CV</text>
<text x="390" y="347.5" font-size="8.6" text-anchor="end" textLength="26" lengthAdjust="spacingAndGlyphs" transform="rotate(-45 390 347.5)">SP-PV</text>
<text x="405.4" y="347.5" font-size="8.6" text-anchor="end" textLength="52.5" lengthAdjust="spacingAndGlyphs" transform="rotate(-45 405.4 347.5)">SP-PV+TF Ab</text>
<text x="7.6" y="403.6" font-size="10" font-weight="bold">F</text>
<text x="70.8" y="419.2" font-size="9.2" textLength="15.2" lengthAdjust="spacingAndGlyphs" class="lt">Cells</text>
<text x="120.5" y="419.7" font-size="9.2" textLength="11.4" lengthAdjust="spacingAndGlyphs" class="lt">EVs</text>
<text x="74.6" y="427" font-size="9.2" textLength="7.7" lengthAdjust="spacingAndGlyphs" class="lt">ns</text>
<text x="122.4" y="457.4" font-size="9.2" textLength="7.9" lengthAdjust="spacingAndGlyphs" class="lt">ns</text>
<line x1="52.3" y1="434.2" x2="52.3" y2="464" stroke="#231f20" stroke-width="1.0"/>
<line x1="52.3" y1="466.5" x2="52.3" y2="496.5" stroke="#231f20" stroke-width="1.0"/>
<line x1="49.3" y1="434.2" x2="52.3" y2="434.2" stroke="#231f20" stroke-width="0.9"/>
<text x="48.6" y="437" font-size="8.1" text-anchor="end">0.4</text>
<line x1="49.3" y1="443.8" x2="52.3" y2="443.8" stroke="#231f20" stroke-width="0.9"/>
<text x="48.6" y="446.6" font-size="8.1" text-anchor="end">0.3</text>
<line x1="49.3" y1="453.5" x2="52.3" y2="453.5" stroke="#231f20" stroke-width="0.9"/>
<text x="48.6" y="456.3" font-size="8.1" text-anchor="end">0.2</text>
<line x1="49.3" y1="463.1" x2="52.3" y2="463.1" stroke="#231f20" stroke-width="0.9"/>
<text x="48.6" y="465.9" font-size="8.1" text-anchor="end">0.01</text>
<line x1="49.3" y1="476.2" x2="52.3" y2="476.2" stroke="#231f20" stroke-width="0.9"/>
<text x="48.6" y="479" font-size="8.1" text-anchor="end">0.04</text>
<line x1="49.3" y1="486.3" x2="52.3" y2="486.3" stroke="#231f20" stroke-width="0.9"/>
<text x="48.6" y="489.1" font-size="8.1" text-anchor="end">0.02</text>
<line x1="49.3" y1="496.5" x2="52.3" y2="496.5" stroke="#231f20" stroke-width="0.9"/>
<text x="48.6" y="499.3" font-size="8.1" text-anchor="end">0.00</text>
<line x1="50.7" y1="434.2" x2="52.3" y2="434.2" stroke="#231f20" stroke-width="0.5"/>
<line x1="50.7" y1="436.13" x2="52.3" y2="436.13" stroke="#231f20" stroke-width="0.5"/>
<line x1="50.7" y1="438.06" x2="52.3" y2="438.06" stroke="#231f20" stroke-width="0.5"/>
<line x1="50.7" y1="439.99" x2="52.3" y2="439.99" stroke="#231f20" stroke-width="0.5"/>
<line x1="50.7" y1="441.92" x2="52.3" y2="441.92" stroke="#231f20" stroke-width="0.5"/>
<line x1="50.7" y1="443.85" x2="52.3" y2="443.85" stroke="#231f20" stroke-width="0.5"/>
<line x1="50.7" y1="445.78" x2="52.3" y2="445.78" stroke="#231f20" stroke-width="0.5"/>
<line x1="50.7" y1="447.71" x2="52.3" y2="447.71" stroke="#231f20" stroke-width="0.5"/>
<line x1="50.7" y1="449.64" x2="52.3" y2="449.64" stroke="#231f20" stroke-width="0.5"/>
<line x1="50.7" y1="451.57" x2="52.3" y2="451.57" stroke="#231f20" stroke-width="0.5"/>
<line x1="50.7" y1="453.5" x2="52.3" y2="453.5" stroke="#231f20" stroke-width="0.5"/>
<line x1="50.7" y1="455.43" x2="52.3" y2="455.43" stroke="#231f20" stroke-width="0.5"/>
<line x1="50.7" y1="457.36" x2="52.3" y2="457.36" stroke="#231f20" stroke-width="0.5"/>
<line x1="50.7" y1="459.29" x2="52.3" y2="459.29" stroke="#231f20" stroke-width="0.5"/>
<line x1="50.7" y1="461.22" x2="52.3" y2="461.22" stroke="#231f20" stroke-width="0.5"/>
<line x1="50.7" y1="463.15" x2="52.3" y2="463.15" stroke="#231f20" stroke-width="0.5"/>
<line x1="50.7" y1="466.6" x2="52.3" y2="466.6" stroke="#231f20" stroke-width="0.5"/>
<line x1="50.7" y1="468.62" x2="52.3" y2="468.62" stroke="#231f20" stroke-width="0.5"/>
<line x1="50.7" y1="470.64" x2="52.3" y2="470.64" stroke="#231f20" stroke-width="0.5"/>
<line x1="50.7" y1="472.66" x2="52.3" y2="472.66" stroke="#231f20" stroke-width="0.5"/>
<line x1="50.7" y1="474.68" x2="52.3" y2="474.68" stroke="#231f20" stroke-width="0.5"/>
<line x1="50.7" y1="476.7" x2="52.3" y2="476.7" stroke="#231f20" stroke-width="0.5"/>
<line x1="50.7" y1="478.72" x2="52.3" y2="478.72" stroke="#231f20" stroke-width="0.5"/>
<line x1="50.7" y1="480.74" x2="52.3" y2="480.74" stroke="#231f20" stroke-width="0.5"/>
<line x1="50.7" y1="482.76" x2="52.3" y2="482.76" stroke="#231f20" stroke-width="0.5"/>
<line x1="50.7" y1="484.78" x2="52.3" y2="484.78" stroke="#231f20" stroke-width="0.5"/>
<line x1="50.7" y1="486.8" x2="52.3" y2="486.8" stroke="#231f20" stroke-width="0.5"/>
<line x1="50.7" y1="488.82" x2="52.3" y2="488.82" stroke="#231f20" stroke-width="0.5"/>
<line x1="50.7" y1="490.84" x2="52.3" y2="490.84" stroke="#231f20" stroke-width="0.5"/>
<line x1="50.7" y1="492.86" x2="52.3" y2="492.86" stroke="#231f20" stroke-width="0.5"/>
<line x1="50.7" y1="494.88" x2="52.3" y2="494.88" stroke="#231f20" stroke-width="0.5"/>
<text x="14.6" y="461" font-size="8.4" text-anchor="middle" textLength="32.5" lengthAdjust="spacingAndGlyphs" transform="rotate(-90 14.6 461)" class="lt">TF Activity</text>
<text x="25.8" y="460.9" font-size="8.4" text-anchor="middle" textLength="87.5" lengthAdjust="spacingAndGlyphs" transform="rotate(-90 25.8 460.9)" class="lt">(FXa generation, nM/min)</text>
<line x1="52.3" y1="496.5" x2="143" y2="496.5" stroke="#231f20" stroke-width="1.2"/>
<rect x="55.4" y="477.9" width="6.5" height="18.6" fill="#d3143c" stroke="#b80f31" stroke-width="0.5"/>
<line x1="58.65" y1="477.9" x2="58.65" y2="474.2" stroke="#d3143c" stroke-width="0.9"/>
<line x1="56.95" y1="474.2" x2="60.35" y2="474.2" stroke="#d3143c" stroke-width="0.9"/>
<rect x="66" y="450" width="6.3" height="15" fill="#5e216f" stroke="#4b0d5e" stroke-width="0.5"/>
<rect x="66" y="467.9" width="6.3" height="28.6" fill="#5e216f" stroke="#4b0d5e" stroke-width="0.5"/>
<line x1="69.15" y1="450" x2="69.15" y2="447.3" stroke="#5e216f" stroke-width="0.9"/>
<line x1="67.45" y1="447.3" x2="70.85" y2="447.3" stroke="#5e216f" stroke-width="0.9"/>
<rect x="75.6" y="475.6" width="6.2" height="20.9" fill="#12508e" stroke="#0c3f73" stroke-width="0.5"/>
<line x1="78.7" y1="475.6" x2="78.7" y2="471.7" stroke="#12508e" stroke-width="0.9"/>
<line x1="77" y1="471.7" x2="80.4" y2="471.7" stroke="#12508e" stroke-width="0.9"/>
<rect x="85.6" y="449" width="6.4" height="15.8" fill="#33b34c" stroke="#22a03b" stroke-width="0.5"/>
<rect x="85.6" y="468" width="6.4" height="28.5" fill="#33b34c" stroke="#22a03b" stroke-width="0.5"/>
<line x1="88.8" y1="449" x2="88.8" y2="444.2" stroke="#33b34c" stroke-width="0.9"/>
<line x1="87.1" y1="444.2" x2="90.5" y2="444.2" stroke="#33b34c" stroke-width="0.9"/>
<rect x="102.2" y="492" width="6.5" height="4.5" fill="#d3143c" stroke="#b80f31" stroke-width="0.5"/>
<line x1="105.45" y1="492" x2="105.45" y2="489.5" stroke="#d3143c" stroke-width="0.9"/>
<line x1="103.75" y1="489.5" x2="107.15" y2="489.5" stroke="#d3143c" stroke-width="0.9"/>
<rect x="112" y="483" width="6.5" height="13.5" fill="#5e216f" stroke="#4b0d5e" stroke-width="0.5"/>
<line x1="115.25" y1="483" x2="115.25" y2="480.2" stroke="#5e216f" stroke-width="0.9"/>
<line x1="113.55" y1="480.2" x2="116.95" y2="480.2" stroke="#5e216f" stroke-width="0.9"/>
<rect x="122" y="490.8" width="6.3" height="5.7" fill="#12508e" stroke="#0c3f73" stroke-width="0.5"/>
<line x1="125.15" y1="490.8" x2="125.15" y2="488.5" stroke="#12508e" stroke-width="0.9"/>
<line x1="123.45" y1="488.5" x2="126.85" y2="488.5" stroke="#12508e" stroke-width="0.9"/>
<rect x="132.7" y="480.6" width="6.5" height="15.9" fill="#33b34c" stroke="#22a03b" stroke-width="0.5"/>
<line x1="135.95" y1="480.6" x2="135.95" y2="476.3" stroke="#33b34c" stroke-width="0.9"/>
<line x1="134.25" y1="476.3" x2="137.65" y2="476.3" stroke="#33b34c" stroke-width="0.9"/>
<line x1="58.6" y1="496.5" x2="58.6" y2="498.5" stroke="#231f20" stroke-width="0.8"/>
<line x1="69.1" y1="496.5" x2="69.1" y2="498.5" stroke="#231f20" stroke-width="0.8"/>
<line x1="78.7" y1="496.5" x2="78.7" y2="498.5" stroke="#231f20" stroke-width="0.8"/>
<line x1="88.8" y1="496.5" x2="88.8" y2="498.5" stroke="#231f20" stroke-width="0.8"/>
<line x1="105.4" y1="496.5" x2="105.4" y2="498.5" stroke="#231f20" stroke-width="0.8"/>
<line x1="115.2" y1="496.5" x2="115.2" y2="498.5" stroke="#231f20" stroke-width="0.8"/>
<line x1="125.1" y1="496.5" x2="125.1" y2="498.5" stroke="#231f20" stroke-width="0.8"/>
<line x1="135.9" y1="496.5" x2="135.9" y2="498.5" stroke="#231f20" stroke-width="0.8"/>
<polyline points="68.5,441 68.5,427.6 88.8,427.6 88.8,439" fill="none" stroke="#231f20" stroke-width="1.0"/>
<line x1="58.7" y1="442.3" x2="68.3" y2="442.3" stroke="#231f20" stroke-width="1.0"/>
<polygon points="62.5,436.85 63.08,438.4 64.73,438.47 63.44,439.5 63.88,441.1 62.5,440.19 61.12,441.1 61.56,439.5 60.27,438.47 61.92,438.4" fill="#231f20"/>
<line x1="77" y1="441.3" x2="87.5" y2="441.3" stroke="#231f20" stroke-width="1.0"/>
<polygon points="82,433.05 82.58,434.6 84.23,434.67 82.94,435.7 83.38,437.3 82,436.39 80.62,437.3 81.06,435.7 79.77,434.67 81.42,434.6" fill="#231f20"/>
<polyline points="114.2,469.8 114.2,459 134.8,459 134.8,469.8" fill="none" stroke="#231f20" stroke-width="1.0"/>
<line x1="104.7" y1="474.3" x2="115.6" y2="474.3" stroke="#231f20" stroke-width="1.0"/>
<polygon points="109.7,467.65 110.28,469.2 111.93,469.27 110.64,470.3 111.08,471.9 109.7,470.99 108.32,471.9 108.76,470.3 107.47,469.27 109.12,469.2" fill="#231f20"/>
<line x1="123.8" y1="472.4" x2="134.2" y2="472.4" stroke="#231f20" stroke-width="1.0"/>
<polygon points="127.4,463.75 127.98,465.3 129.63,465.37 128.34,466.4 128.78,468 127.4,467.09 126.02,468 126.46,466.4 125.17,465.37 126.82,465.3" fill="#231f20"/>
<text x="60.2" y="501.9" font-size="8.6" text-anchor="end" textLength="12" lengthAdjust="spacingAndGlyphs" transform="rotate(-45 60.2 501.9)">CV</text>
<text x="71.2" y="502.8" font-size="8.6" text-anchor="end" textLength="26" lengthAdjust="spacingAndGlyphs" transform="rotate(-45 71.2 502.8)">SP-PV</text>
<text x="80.2" y="502.5" font-size="8.6" text-anchor="end" textLength="36" lengthAdjust="spacingAndGlyphs" transform="rotate(-45 80.2 502.5)">AnnexinV</text>
<text x="92.3" y="502.8" font-size="8.6" text-anchor="end" textLength="68" lengthAdjust="spacingAndGlyphs" transform="rotate(-45 92.3 502.8)">SP-PV+Annexin V</text>
<text x="108.7" y="503" font-size="8.6" text-anchor="end" textLength="12" lengthAdjust="spacingAndGlyphs" transform="rotate(-45 108.7 503)">CV</text>
<text x="119" y="503" font-size="8.6" text-anchor="end" textLength="26" lengthAdjust="spacingAndGlyphs" transform="rotate(-45 119 503)">SP-PV</text>
<text x="129" y="503" font-size="8.6" text-anchor="end" textLength="36" lengthAdjust="spacingAndGlyphs" transform="rotate(-45 129 503)">AnnexinV</text>
<text x="140.2" y="504.5" font-size="8.6" text-anchor="end" textLength="67" lengthAdjust="spacingAndGlyphs" transform="rotate(-45 140.2 504.5)">SP-PV+Annexin V</text>
<text x="156.3" y="404.6" font-size="10.9" font-weight="bold">G</text>
<text x="198.8" y="416" font-size="10" textLength="12.6" lengthAdjust="spacingAndGlyphs" class="rg">CV</text>
<text class="rg" x="275.5" y="416.0" font-size="10" textLength="21.3" lengthAdjust="spacingAndGlyphs">HgCl</text><text class="rg" x="297.1" y="418.4" font-size="7.2">2</text>
<text x="353.5" y="416" font-size="10" textLength="25.5" lengthAdjust="spacingAndGlyphs" class="rg">SP-PV</text>
<clipPath id="g1"><rect x="167.7" y="422.9" width="75.4" height="75"/></clipPath>
<filter id="tg1" filterUnits="userSpaceOnUse" x="167.7" y="422.9" width="75.4" height="75" color-interpolation-filters="sRGB">
<feGaussianBlur in="SourceGraphic" stdDeviation="0.55" result="b"/>
<feTurbulence type="fractalNoise" baseFrequency="0.32" numOctaves="2" seed="5" result="n"/>
<feColorMatrix in="n" type="matrix" values="0.33 0.33 0.33 0 0  0.33 0.33 0.33 0 0  0.33 0.33 0.33 0 0  0 0 0 0 1" result="g"/>
<feComponentTransfer in="g" result="g2"><feFuncR type="linear" slope="2.5600000000000005" intercept="-0.7800000000000002"/><feFuncG type="linear" slope="2.5600000000000005" intercept="-0.7800000000000002"/><feFuncB type="linear" slope="2.5600000000000005" intercept="-0.7800000000000002"/></feComponentTransfer>
<feComposite in="b" in2="g2" operator="arithmetic" k1="1.9" k2="0.05" k3="0" k4="0" result="c"/>
<feGaussianBlur in="c" stdDeviation="0.35" result="cb"/>
<feColorMatrix in="cb" type="matrix" values="1.0 0 0 0 0  0 1.0 0 0 0  0 0 1.0 0 0  0 0 0 1 0"/>
</filter>
<g clip-path="url(#g1)"><g filter="url(#tg1)">
<rect x="167.7" y="422.9" width="75.4" height="75" fill="#0a180a"/>
<ellipse cx="200.5" cy="449.5" rx="12.5" ry="13.5" fill="#0d360f" fill-opacity="1"/>
<ellipse cx="198.5" cy="446.5" rx="5" ry="5" fill="#051605"/>
<ellipse cx="190.6" cy="481" rx="7" ry="6" fill="#0a2c0b" fill-opacity="1"/>
<ellipse cx="181" cy="457.5" rx="12" ry="14" fill="#124612" fill-opacity="1"/>
<ellipse cx="180.6" cy="458.7" rx="8.08" ry="8.58" fill="none" stroke="#23922a" stroke-width="2.6" filter="url(#soft)"/>
<ellipse cx="180.6" cy="458.7" rx="6" ry="6.5" fill="#062006"/>
<ellipse cx="181" cy="457.5" rx="12" ry="14" fill="none" stroke="#1e6e1f" stroke-width="0.9"/>
<ellipse cx="225.5" cy="449.5" rx="10.5" ry="14" fill="#124612" fill-opacity="1"/>
<ellipse cx="226.8" cy="451.8" rx="6.58" ry="7.58" fill="none" stroke="#23922a" stroke-width="2.6" filter="url(#soft)"/>
<ellipse cx="226.8" cy="451.8" rx="4.5" ry="5.5" fill="#062006"/>
<ellipse cx="225.5" cy="449.5" rx="10.5" ry="14" fill="none" stroke="#176017" stroke-width="0.9"/>
<ellipse cx="210.6" cy="474.8" rx="13" ry="13" fill="#124612" fill-opacity="1"/>
<ellipse cx="210.6" cy="475.6" rx="8.08" ry="8.08" fill="none" stroke="#23922a" stroke-width="2.6" filter="url(#soft)"/>
<ellipse cx="210.6" cy="475.6" rx="6" ry="6" fill="#062006"/>
<ellipse cx="210.6" cy="474.8" rx="13" ry="13" fill="none" stroke="#176017" stroke-width="0.9"/>
<ellipse cx="237.5" cy="482.5" rx="9" ry="10" fill="#124612" fill-opacity="1"/>
<ellipse cx="237.5" cy="481.8" rx="6.58" ry="7.08" fill="none" stroke="#23922a" stroke-width="2.6" filter="url(#soft)"/>
<ellipse cx="237.5" cy="481.8" rx="4.5" ry="5" fill="#062006"/>
<ellipse cx="237.5" cy="482.5" rx="9" ry="10" fill="none" stroke="#176017" stroke-width="0.9"/>
<ellipse cx="210" cy="428" rx="11" ry="10" fill="#124612" fill-opacity="1"/>
<ellipse cx="210.6" cy="427" rx="7.08" ry="6.58" fill="none" stroke="#23922a" stroke-width="2.6" filter="url(#soft)"/>
<ellipse cx="210.6" cy="427" rx="5" ry="4.5" fill="#062006"/>
<ellipse cx="210" cy="428" rx="11" ry="10" fill="none" stroke="#176017" stroke-width="0.9"/>
<ellipse cx="179" cy="434" rx="3.5" ry="3.5" fill="#2aa02a" fill-opacity="1"/>
<ellipse cx="179" cy="434" rx="3.5" ry="3.5" fill="none" stroke="#45d045" stroke-width="1"/>
<ellipse cx="193.7" cy="430.2" rx="3.5" ry="4" fill="#2a9a2a" fill-opacity="1"/>
<ellipse cx="193.7" cy="430.2" rx="3.5" ry="4" fill="none" stroke="#3fc03f" stroke-width="1"/>
<ellipse cx="181" cy="493" rx="9" ry="6" fill="#0e3e10" fill-opacity="1"/>
<ellipse cx="181" cy="493" rx="9" ry="6" fill="none" stroke="#35c035" stroke-width="1.3"/>
</g>
<g opacity="0.45" filter="url(#soft)">
<ellipse cx="181" cy="457.5" rx="12" ry="14" fill="none" stroke="#1e6e1f" stroke-width="0.9"/>
<ellipse cx="225.5" cy="449.5" rx="10.5" ry="14" fill="none" stroke="#176017" stroke-width="0.9"/>
<ellipse cx="210.6" cy="474.8" rx="13" ry="13" fill="none" stroke="#176017" stroke-width="0.9"/>
<ellipse cx="237.5" cy="482.5" rx="9" ry="10" fill="none" stroke="#176017" stroke-width="0.9"/>
<ellipse cx="210" cy="428" rx="11" ry="10" fill="none" stroke="#176017" stroke-width="0.9"/>
<ellipse cx="179" cy="434" rx="3.5" ry="3.5" fill="none" stroke="#45d045" stroke-width="1"/>
<ellipse cx="193.7" cy="430.2" rx="3.5" ry="4" fill="none" stroke="#3fc03f" stroke-width="1"/>
<ellipse cx="181" cy="493" rx="9" ry="6" fill="none" stroke="#35c035" stroke-width="1.3"/>
</g></g>
<rect x="168.1" y="423.3" width="74.6" height="74.2" fill="none" stroke="#000" stroke-width="0.9" stroke-opacity="0.85"/>
<clipPath id="g2"><rect x="248.3" y="423.1" width="76" height="74.9"/></clipPath>
<filter id="tg2" filterUnits="userSpaceOnUse" x="248.3" y="423.1" width="76" height="74.9" color-interpolation-filters="sRGB">
<feGaussianBlur in="SourceGraphic" stdDeviation="0.55" result="b"/>
<feTurbulence type="fractalNoise" baseFrequency="0.32" numOctaves="2" seed="9" result="n"/>
<feColorMatrix in="n" type="matrix" values="0.33 0.33 0.33 0 0  0.33 0.33 0.33 0 0  0.33 0.33 0.33 0 0  0 0 0 0 1" result="g"/>
<feComponentTransfer in="g" result="g2"><feFuncR type="linear" slope="1.7600000000000002" intercept="-0.3800000000000001"/><feFuncG type="linear" slope="1.7600000000000002" intercept="-0.3800000000000001"/><feFuncB type="linear" slope="1.7600000000000002" intercept="-0.3800000000000001"/></feComponentTransfer>
<feComposite in="b" in2="g2" operator="arithmetic" k1="1.9" k2="0.05" k3="0" k4="0" result="c"/>
<feGaussianBlur in="c" stdDeviation="0.35" result="cb"/>
<feColorMatrix in="cb" type="matrix" values="1.0 0 0 0 0  0 1.0 0 0 0  0 0 1.0 0 0  0 0 0 1 0"/>
</filter>
<g clip-path="url(#g2)"><g filter="url(#tg2)">
<rect x="248.3" y="423.1" width="76" height="74.9" fill="#0a180a"/>
<ellipse cx="254" cy="425" rx="8" ry="5" fill="#1a7a1c" fill-opacity="1"/>
<path d="M249.1,430.2 C250.47,425.6 252.9,427.2 255.2,427.2 C257.5,427.2 260.58,428.67 262.9,430.2 C265.22,431.73 267.17,434.35 269.1,436.4 C271.03,438.45 273.1,440.2 274.5,442.5 C275.9,444.8 277.12,447.63 277.5,450.2 C277.88,452.77 277.57,455.85 276.8,457.9 C276.03,459.95 274.7,461.35 272.9,462.5 C271.1,463.65 268.43,464.53 266,464.8 C263.57,465.07 260.73,464.73 258.3,464.1 C255.87,463.47 253.28,462.55 251.4,461 C249.52,459.45 247.38,459.93 247,454.8 C246.62,449.67 247.73,434.8 249.1,430.2Z" fill="#21902a" fill-opacity="1"/>
<ellipse cx="258.3" cy="444" rx="6.18" ry="6.68" fill="none" stroke="#35b835" stroke-width="2.4" filter="url(#soft2)"/>
<ellipse cx="258.3" cy="444" rx="4.5" ry="5" fill="#0a2a0b" filter="url(#soft)"/>
<path d="M249.1,430.2 C250.47,425.6 252.9,427.2 255.2,427.2 C257.5,427.2 260.58,428.67 262.9,430.2 C265.22,431.73 267.17,434.35 269.1,436.4 C271.03,438.45 273.1,440.2 274.5,442.5 C275.9,444.8 277.12,447.63 277.5,450.2 C277.88,452.77 277.57,455.85 276.8,457.9 C276.03,459.95 274.7,461.35 272.9,462.5 C271.1,463.65 268.43,464.53 266,464.8 C263.57,465.07 260.73,464.73 258.3,464.1 C255.87,463.47 253.28,462.55 251.4,461 C249.52,459.45 247.38,459.93 247,454.8 C246.62,449.67 247.73,434.8 249.1,430.2Z" fill="none" stroke="#2ca82e" stroke-width="1.26" filter="url(#soft)"/>
<path d="M261.4,425.6 C261.78,424.02 263.43,422.85 266,422.3 C268.57,421.75 273.72,421.75 276.8,422.3 C279.88,422.85 283.1,424.28 284.5,425.6 C285.9,426.92 285.72,428.67 285.2,430.2 C284.68,431.73 283.07,433.77 281.4,434.8 C279.73,435.83 277.25,436.27 275.2,436.4 C273.15,436.53 271.02,436.37 269.1,435.6 C267.18,434.83 264.98,433.47 263.7,431.8 C262.42,430.13 261.02,427.18 261.4,425.6Z" fill="#21902a" fill-opacity="1"/>
<path d="M261.4,425.6 C261.78,424.02 263.43,422.85 266,422.3 C268.57,421.75 273.72,421.75 276.8,422.3 C279.88,422.85 283.1,424.28 284.5,425.6 C285.9,426.92 285.72,428.67 285.2,430.2 C284.68,431.73 283.07,433.77 281.4,434.8 C279.73,435.83 277.25,436.27 275.2,436.4 C273.15,436.53 271.02,436.37 269.1,435.6 C267.18,434.83 264.98,433.47 263.7,431.8 C262.42,430.13 261.02,427.18 261.4,425.6Z" fill="none" stroke="#2ca82e" stroke-width="1.26" filter="url(#soft)"/>
<path d="M280.6,436.4 C280.98,433.72 282.83,431.17 284.5,429.5 C286.17,427.83 288.3,426.65 290.6,426.4 C292.9,426.15 295.98,426.85 298.3,428 C300.62,429.15 303.35,430.88 304.5,433.3 C305.65,435.72 305.72,439.93 305.2,442.5 C304.68,445.07 303.07,447.28 301.4,448.7 C299.73,450.12 297.52,450.75 295.2,451 C292.88,451.25 289.67,451.1 287.5,450.2 C285.33,449.3 283.35,447.9 282.2,445.6 C281.05,443.3 280.22,439.08 280.6,436.4Z" fill="#21902a" fill-opacity="1"/>
<ellipse cx="292.9" cy="437.4" rx="5.68" ry="6.18" fill="none" stroke="#35b835" stroke-width="2.4" filter="url(#soft2)"/>
<ellipse cx="292.9" cy="437.4" rx="4" ry="4.5" fill="#0a2a0b" filter="url(#soft)"/>
<path d="M280.6,436.4 C280.98,433.72 282.83,431.17 284.5,429.5 C286.17,427.83 288.3,426.65 290.6,426.4 C292.9,426.15 295.98,426.85 298.3,428 C300.62,429.15 303.35,430.88 304.5,433.3 C305.65,435.72 305.72,439.93 305.2,442.5 C304.68,445.07 303.07,447.28 301.4,448.7 C299.73,450.12 297.52,450.75 295.2,451 C292.88,451.25 289.67,451.1 287.5,450.2 C285.33,449.3 283.35,447.9 282.2,445.6 C281.05,443.3 280.22,439.08 280.6,436.4Z" fill="none" stroke="#2ca82e" stroke-width="1.26" filter="url(#soft)"/>
<path d="M302.9,424.1 C304.32,422.78 308.43,422.47 312.2,422.3 C315.97,422.13 323.28,421.27 325.5,423.1 C327.72,424.93 326.18,430.32 325.5,433.3 C324.82,436.28 323.37,439.47 321.4,441 C319.43,442.53 316.02,443.02 313.7,442.5 C311.38,441.98 309.17,439.95 307.5,437.9 C305.83,435.85 304.47,432.5 303.7,430.2 C302.93,427.9 301.48,425.42 302.9,424.1Z" fill="#1a781c" fill-opacity="1"/>
<path d="M302.9,424.1 C304.32,422.78 308.43,422.47 312.2,422.3 C315.97,422.13 323.28,421.27 325.5,423.1 C327.72,424.93 326.18,430.32 325.5,433.3 C324.82,436.28 323.37,439.47 321.4,441 C319.43,442.53 316.02,443.02 313.7,442.5 C311.38,441.98 309.17,439.95 307.5,437.9 C305.83,435.85 304.47,432.5 303.7,430.2 C302.93,427.9 301.48,425.42 302.9,424.1Z" fill="none" stroke="#2ca82e" stroke-width="1.26" filter="url(#soft)"/>
<path d="M291.4,457.9 C291.9,455.6 293.28,453.33 295.2,451.8 C297.12,450.27 300.07,449.22 302.9,448.7 C305.73,448.18 309.38,448.18 312.2,448.7 C315.02,449.22 317.88,450 319.8,451.8 C321.72,453.6 323.18,456.68 323.7,459.5 C324.22,462.32 323.8,465.88 322.9,468.7 C322,471.52 320.35,474.35 318.3,476.4 C316.25,478.45 312.9,480.37 310.6,481 C308.3,481.63 306.55,481.48 304.5,480.2 C302.45,478.92 300.35,475.73 298.3,473.3 C296.25,470.87 293.35,468.17 292.2,465.6 C291.05,463.03 290.9,460.2 291.4,457.9Z" fill="#21902a" fill-opacity="1"/>
<ellipse cx="306" cy="461.8" rx="5.68" ry="7.18" fill="none" stroke="#35b835" stroke-width="2.4" filter="url(#soft2)"/>
<ellipse cx="306" cy="461.8" rx="4" ry="5.5" fill="#0a2a0b" filter="url(#soft)"/>
<path d="M291.4,457.9 C291.9,455.6 293.28,453.33 295.2,451.8 C297.12,450.27 300.07,449.22 302.9,448.7 C305.73,448.18 309.38,448.18 312.2,448.7 C315.02,449.22 317.88,450 319.8,451.8 C321.72,453.6 323.18,456.68 323.7,459.5 C324.22,462.32 323.8,465.88 322.9,468.7 C322,471.52 320.35,474.35 318.3,476.4 C316.25,478.45 312.9,480.37 310.6,481 C308.3,481.63 306.55,481.48 304.5,480.2 C302.45,478.92 300.35,475.73 298.3,473.3 C296.25,470.87 293.35,468.17 292.2,465.6 C291.05,463.03 290.9,460.2 291.4,457.9Z" fill="none" stroke="#2ca82e" stroke-width="1.26" filter="url(#soft)"/>
<path d="M259.8,465.6 C260.7,463.82 262.43,461.17 264.5,459.5 C266.57,457.83 269.65,455.98 272.2,455.6 C274.75,455.22 277.88,456.05 279.8,457.2 C281.72,458.35 283.3,460.58 283.7,462.5 C284.1,464.42 283.35,466.77 282.2,468.7 C281.05,470.63 278.98,472.82 276.8,474.1 C274.62,475.38 271.42,476.28 269.1,476.4 C266.78,476.52 264.57,475.83 262.9,474.8 C261.23,473.77 259.62,471.73 259.1,470.2 C258.58,468.67 258.9,467.38 259.8,465.6Z" fill="#21902a" fill-opacity="1"/>
<ellipse cx="270.6" cy="467.2" rx="5.18" ry="5.18" fill="none" stroke="#35b835" stroke-width="2.4" filter="url(#soft2)"/>
<ellipse cx="270.6" cy="467.2" rx="3.5" ry="3.5" fill="#0a2a0b" filter="url(#soft)"/>
<path d="M259.8,465.6 C260.7,463.82 262.43,461.17 264.5,459.5 C266.57,457.83 269.65,455.98 272.2,455.6 C274.75,455.22 277.88,456.05 279.8,457.2 C281.72,458.35 283.3,460.58 283.7,462.5 C284.1,464.42 283.35,466.77 282.2,468.7 C281.05,470.63 278.98,472.82 276.8,474.1 C274.62,475.38 271.42,476.28 269.1,476.4 C266.78,476.52 264.57,475.83 262.9,474.8 C261.23,473.77 259.62,471.73 259.1,470.2 C258.58,468.67 258.9,467.38 259.8,465.6Z" fill="none" stroke="#2ca82e" stroke-width="1.26" filter="url(#soft)"/>
<path d="M267.5,479.5 C268.13,476.67 270.58,472.52 272.9,470.2 C275.22,467.88 278.45,466.88 281.4,465.6 C284.35,464.32 287.53,462.23 290.6,462.5 C293.67,462.77 297.87,464.88 299.8,467.2 C301.73,469.52 302.07,473.33 302.2,476.4 C302.33,479.47 301.77,482.92 300.6,485.6 C299.43,488.28 297.63,491.08 295.2,492.5 C292.77,493.92 289.33,494.22 286,494.1 C282.67,493.98 278.02,492.95 275.2,491.8 C272.38,490.65 270.38,489.25 269.1,487.2 C267.82,485.15 266.87,482.33 267.5,479.5Z" fill="#21902a" fill-opacity="1"/>
<ellipse cx="283.7" cy="478.7" rx="4.18" ry="5.68" fill="none" stroke="#35b835" stroke-width="2.4" filter="url(#soft2)"/>
<ellipse cx="283.7" cy="478.7" rx="2.5" ry="4" fill="#0a2a0b" filter="url(#soft)"/>
<path d="M267.5,479.5 C268.13,476.67 270.58,472.52 272.9,470.2 C275.22,467.88 278.45,466.88 281.4,465.6 C284.35,464.32 287.53,462.23 290.6,462.5 C293.67,462.77 297.87,464.88 299.8,467.2 C301.73,469.52 302.07,473.33 302.2,476.4 C302.33,479.47 301.77,482.92 300.6,485.6 C299.43,488.28 297.63,491.08 295.2,492.5 C292.77,493.92 289.33,494.22 286,494.1 C282.67,493.98 278.02,492.95 275.2,491.8 C272.38,490.65 270.38,489.25 269.1,487.2 C267.82,485.15 266.87,482.33 267.5,479.5Z" fill="none" stroke="#2ca82e" stroke-width="1.26" filter="url(#soft)"/>
<path d="M247,479.5 C248.37,476.43 252.55,476.53 255.2,476.4 C257.85,476.27 260.97,477.17 262.9,478.7 C264.83,480.23 266.15,483.17 266.8,485.6 C267.45,488.03 267.45,491.07 266.8,493.3 C266.15,495.53 264.83,498.05 262.9,499 C260.97,499.95 257.85,499.7 255.2,499 C252.55,498.3 248.37,498.05 247,494.8 C245.63,491.55 245.63,482.57 247,479.5Z" fill="#21902a" fill-opacity="1"/>
<ellipse cx="255.2" cy="491" rx="5.18" ry="5.18" fill="none" stroke="#35b835" stroke-width="2.4" filter="url(#soft2)"/>
<ellipse cx="255.2" cy="491" rx="3.5" ry="3.5" fill="#0a2a0b" filter="url(#soft)"/>
<path d="M247,479.5 C248.37,476.43 252.55,476.53 255.2,476.4 C257.85,476.27 260.97,477.17 262.9,478.7 C264.83,480.23 266.15,483.17 266.8,485.6 C267.45,488.03 267.45,491.07 266.8,493.3 C266.15,495.53 264.83,498.05 262.9,499 C260.97,499.95 257.85,499.7 255.2,499 C252.55,498.3 248.37,498.05 247,494.8 C245.63,491.55 245.63,482.57 247,479.5Z" fill="none" stroke="#2ca82e" stroke-width="1.26" filter="url(#soft)"/>
<ellipse cx="300" cy="497" rx="10" ry="2.5" fill="#1e8a20" fill-opacity="1"/>
</g>
<g opacity="0.45" filter="url(#soft)">
<path d="M249.1,430.2 C250.47,425.6 252.9,427.2 255.2,427.2 C257.5,427.2 260.58,428.67 262.9,430.2 C265.22,431.73 267.17,434.35 269.1,436.4 C271.03,438.45 273.1,440.2 274.5,442.5 C275.9,444.8 277.12,447.63 277.5,450.2 C277.88,452.77 277.57,455.85 276.8,457.9 C276.03,459.95 274.7,461.35 272.9,462.5 C271.1,463.65 268.43,464.53 266,464.8 C263.57,465.07 260.73,464.73 258.3,464.1 C255.87,463.47 253.28,462.55 251.4,461 C249.52,459.45 247.38,459.93 247,454.8 C246.62,449.67 247.73,434.8 249.1,430.2Z" fill="none" stroke="#2ca82e" stroke-width="1.1"/>
<path d="M261.4,425.6 C261.78,424.02 263.43,422.85 266,422.3 C268.57,421.75 273.72,421.75 276.8,422.3 C279.88,422.85 283.1,424.28 284.5,425.6 C285.9,426.92 285.72,428.67 285.2,430.2 C284.68,431.73 283.07,433.77 281.4,434.8 C279.73,435.83 277.25,436.27 275.2,436.4 C273.15,436.53 271.02,436.37 269.1,435.6 C267.18,434.83 264.98,433.47 263.7,431.8 C262.42,430.13 261.02,427.18 261.4,425.6Z" fill="none" stroke="#2ca82e" stroke-width="1.1"/>
<path d="M280.6,436.4 C280.98,433.72 282.83,431.17 284.5,429.5 C286.17,427.83 288.3,426.65 290.6,426.4 C292.9,426.15 295.98,426.85 298.3,428 C300.62,429.15 303.35,430.88 304.5,433.3 C305.65,435.72 305.72,439.93 305.2,442.5 C304.68,445.07 303.07,447.28 301.4,448.7 C299.73,450.12 297.52,450.75 295.2,451 C292.88,451.25 289.67,451.1 287.5,450.2 C285.33,449.3 283.35,447.9 282.2,445.6 C281.05,443.3 280.22,439.08 280.6,436.4Z" fill="none" stroke="#2ca82e" stroke-width="1.1"/>
<path d="M302.9,424.1 C304.32,422.78 308.43,422.47 312.2,422.3 C315.97,422.13 323.28,421.27 325.5,423.1 C327.72,424.93 326.18,430.32 325.5,433.3 C324.82,436.28 323.37,439.47 321.4,441 C319.43,442.53 316.02,443.02 313.7,442.5 C311.38,441.98 309.17,439.95 307.5,437.9 C305.83,435.85 304.47,432.5 303.7,430.2 C302.93,427.9 301.48,425.42 302.9,424.1Z" fill="none" stroke="#2ca82e" stroke-width="1.1"/>
<path d="M291.4,457.9 C291.9,455.6 293.28,453.33 295.2,451.8 C297.12,450.27 300.07,449.22 302.9,448.7 C305.73,448.18 309.38,448.18 312.2,448.7 C315.02,449.22 317.88,450 319.8,451.8 C321.72,453.6 323.18,456.68 323.7,459.5 C324.22,462.32 323.8,465.88 322.9,468.7 C322,471.52 320.35,474.35 318.3,476.4 C316.25,478.45 312.9,480.37 310.6,481 C308.3,481.63 306.55,481.48 304.5,480.2 C302.45,478.92 300.35,475.73 298.3,473.3 C296.25,470.87 293.35,468.17 292.2,465.6 C291.05,463.03 290.9,460.2 291.4,457.9Z" fill="none" stroke="#2ca82e" stroke-width="1.1"/>
<path d="M259.8,465.6 C260.7,463.82 262.43,461.17 264.5,459.5 C266.57,457.83 269.65,455.98 272.2,455.6 C274.75,455.22 277.88,456.05 279.8,457.2 C281.72,458.35 283.3,460.58 283.7,462.5 C284.1,464.42 283.35,466.77 282.2,468.7 C281.05,470.63 278.98,472.82 276.8,474.1 C274.62,475.38 271.42,476.28 269.1,476.4 C266.78,476.52 264.57,475.83 262.9,474.8 C261.23,473.77 259.62,471.73 259.1,470.2 C258.58,468.67 258.9,467.38 259.8,465.6Z" fill="none" stroke="#2ca82e" stroke-width="1.1"/>
<path d="M267.5,479.5 C268.13,476.67 270.58,472.52 272.9,470.2 C275.22,467.88 278.45,466.88 281.4,465.6 C284.35,464.32 287.53,462.23 290.6,462.5 C293.67,462.77 297.87,464.88 299.8,467.2 C301.73,469.52 302.07,473.33 302.2,476.4 C302.33,479.47 301.77,482.92 300.6,485.6 C299.43,488.28 297.63,491.08 295.2,492.5 C292.77,493.92 289.33,494.22 286,494.1 C282.67,493.98 278.02,492.95 275.2,491.8 C272.38,490.65 270.38,489.25 269.1,487.2 C267.82,485.15 266.87,482.33 267.5,479.5Z" fill="none" stroke="#2ca82e" stroke-width="1.1"/>
<path d="M247,479.5 C248.37,476.43 252.55,476.53 255.2,476.4 C257.85,476.27 260.97,477.17 262.9,478.7 C264.83,480.23 266.15,483.17 266.8,485.6 C267.45,488.03 267.45,491.07 266.8,493.3 C266.15,495.53 264.83,498.05 262.9,499 C260.97,499.95 257.85,499.7 255.2,499 C252.55,498.3 248.37,498.05 247,494.8 C245.63,491.55 245.63,482.57 247,479.5Z" fill="none" stroke="#2ca82e" stroke-width="1.1"/>
</g></g>
<rect x="248.7" y="423.5" width="75.2" height="74.1" fill="none" stroke="#000" stroke-width="0.9" stroke-opacity="0.85"/>
<clipPath id="g3"><rect x="328.9" y="423.1" width="75.4" height="74.7"/></clipPath>
<filter id="tg3" filterUnits="userSpaceOnUse" x="328.9" y="423.1" width="75.4" height="74.7" color-interpolation-filters="sRGB">
<feGaussianBlur in="SourceGraphic" stdDeviation="0.55" result="b"/>
<feTurbulence type="fractalNoise" baseFrequency="0.32" numOctaves="2" seed="13" result="n"/>
<feColorMatrix in="n" type="matrix" values="0.33 0.33 0.33 0 0  0.33 0.33 0.33 0 0  0.33 0.33 0.33 0 0  0 0 0 0 1" result="g"/>
<feComponentTransfer in="g" result="g2"><feFuncR type="linear" slope="2.5600000000000005" intercept="-0.7800000000000002"/><feFuncG type="linear" slope="2.5600000000000005" intercept="-0.7800000000000002"/><feFuncB type="linear" slope="2.5600000000000005" intercept="-0.7800000000000002"/></feComponentTransfer>
<feComposite in="b" in2="g2" operator="arithmetic" k1="1.9" k2="0.05" k3="0" k4="0" result="c"/>
<feGaussianBlur in="c" stdDeviation="0.35" result="cb"/>
<feColorMatrix in="cb" type="matrix" values="1.0 0 0 0 0  0 1.0 0 0 0  0 0 1.0 0 0  0 0 0 1 0"/>
</filter>
<g clip-path="url(#g3)"><g filter="url(#tg3)">
<rect x="328.9" y="423.1" width="75.4" height="74.7" fill="#0a180a"/>
<path d="M330.1,451 C330.62,449.2 332.13,448.28 334.7,447.9 C337.27,447.52 341.92,448.32 345.5,448.7 C349.08,449.08 353.13,450.45 356.2,450.2 C359.27,449.95 361.33,448.22 363.9,447.2 C366.47,446.18 368.78,444.75 371.6,444.1 C374.42,443.45 378.1,442.92 380.8,443.3 C383.5,443.68 386.13,444.87 387.8,446.4 C389.47,447.93 390.68,450.32 390.8,452.5 C390.92,454.68 390.17,457.45 388.5,459.5 C386.83,461.55 383.62,463.52 380.8,464.8 C377.98,466.08 374.42,467.07 371.6,467.2 C368.78,467.33 366.2,466.38 363.9,465.6 C361.6,464.82 360.1,463.22 357.8,462.5 C355.5,461.78 352.93,461.68 350.1,461.3 C347.27,460.92 343.88,460.63 340.8,460.2 C337.72,459.77 333.38,460.23 331.6,458.7 C329.82,457.17 329.58,452.8 330.1,451Z" fill="#0f3f11" fill-opacity="1"/>
<ellipse cx="373.5" cy="453.5" rx="6.4" ry="5.4" fill="none" stroke="#34b834" stroke-width="2" filter="url(#soft2)"/>
<ellipse cx="373.5" cy="453.5" rx="5" ry="4" fill="#071a07" filter="url(#soft)"/>
<path d="M330.1,451 C330.62,449.2 332.13,448.28 334.7,447.9 C337.27,447.52 341.92,448.32 345.5,448.7 C349.08,449.08 353.13,450.45 356.2,450.2 C359.27,449.95 361.33,448.22 363.9,447.2 C366.47,446.18 368.78,444.75 371.6,444.1 C374.42,443.45 378.1,442.92 380.8,443.3 C383.5,443.68 386.13,444.87 387.8,446.4 C389.47,447.93 390.68,450.32 390.8,452.5 C390.92,454.68 390.17,457.45 388.5,459.5 C386.83,461.55 383.62,463.52 380.8,464.8 C377.98,466.08 374.42,467.07 371.6,467.2 C368.78,467.33 366.2,466.38 363.9,465.6 C361.6,464.82 360.1,463.22 357.8,462.5 C355.5,461.78 352.93,461.68 350.1,461.3 C347.27,460.92 343.88,460.63 340.8,460.2 C337.72,459.77 333.38,460.23 331.6,458.7 C329.82,457.17 329.58,452.8 330.1,451Z" fill="none" stroke="#1a6a1b" stroke-width="1.03" filter="url(#soft)"/>
<path d="M340.1,430.2 C340.73,428.53 342.23,426.62 343.9,425.6 C345.57,424.58 347.92,423.97 350.1,424.1 C352.28,424.23 355.6,424.87 357,426.4 C358.4,427.93 358.63,431.12 358.5,433.3 C358.37,435.48 357.6,438.08 356.2,439.5 C354.8,440.92 352.27,441.68 350.1,441.8 C347.93,441.92 344.87,441.23 343.2,440.2 C341.53,439.17 340.62,437.27 340.1,435.6 C339.58,433.93 339.47,431.87 340.1,430.2Z" fill="#0d360f" fill-opacity="1"/>
<ellipse cx="349.3" cy="431.8" rx="4.84" ry="4.84" fill="none" stroke="#1a6a1b" stroke-width="1.2" filter="url(#soft2)"/>
<ellipse cx="349.3" cy="431.8" rx="4" ry="4" fill="#071a07" filter="url(#soft)"/>
<path d="M340.1,430.2 C340.73,428.53 342.23,426.62 343.9,425.6 C345.57,424.58 347.92,423.97 350.1,424.1 C352.28,424.23 355.6,424.87 357,426.4 C358.4,427.93 358.63,431.12 358.5,433.3 C358.37,435.48 357.6,438.08 356.2,439.5 C354.8,440.92 352.27,441.68 350.1,441.8 C347.93,441.92 344.87,441.23 343.2,440.2 C341.53,439.17 340.62,437.27 340.1,435.6 C339.58,433.93 339.47,431.87 340.1,430.2Z" fill="none" stroke="#30b030" stroke-width="1.49" filter="url(#soft)"/>
<path d="M364.7,431.8 C364.83,429.88 365.72,428.23 367,427.2 C368.28,426.17 370.73,425.35 372.4,425.6 C374.07,425.85 375.98,427.17 377,428.7 C378.02,430.23 378.63,432.88 378.5,434.8 C378.37,436.72 377.48,439.03 376.2,440.2 C374.92,441.37 372.47,442.05 370.8,441.8 C369.13,441.55 367.22,440.37 366.2,438.7 C365.18,437.03 364.57,433.72 364.7,431.8Z" fill="#0a2c0b" fill-opacity="1"/>
<path d="M364.7,431.8 C364.83,429.88 365.72,428.23 367,427.2 C368.28,426.17 370.73,425.35 372.4,425.6 C374.07,425.85 375.98,427.17 377,428.7 C378.02,430.23 378.63,432.88 378.5,434.8 C378.37,436.72 377.48,439.03 376.2,440.2 C374.92,441.37 372.47,442.05 370.8,441.8 C369.13,441.55 367.22,440.37 366.2,438.7 C365.18,437.03 364.57,433.72 364.7,431.8Z" fill="none" stroke="#36c036" stroke-width="1.72" filter="url(#soft)"/>
<path d="M397.8,467.2 C398.25,465.53 399.6,462.78 400.8,461.8 C402,460.82 404.22,459.63 405,461.3 C405.78,462.97 405.5,469.03 405.5,471.8 C405.5,474.57 405.9,477.13 405,477.9 C404.1,478.67 401.25,477.42 400.1,476.4 C398.95,475.38 398.48,473.33 398.1,471.8 C397.72,470.27 397.35,468.87 397.8,467.2Z" fill="#0a2c0b" fill-opacity="1"/>
<path d="M397.8,467.2 C398.25,465.53 399.6,462.78 400.8,461.8 C402,460.82 404.22,459.63 405,461.3 C405.78,462.97 405.5,469.03 405.5,471.8 C405.5,474.57 405.9,477.13 405,477.9 C404.1,478.67 401.25,477.42 400.1,476.4 C398.95,475.38 398.48,473.33 398.1,471.8 C397.72,470.27 397.35,468.87 397.8,467.2Z" fill="none" stroke="#36c036" stroke-width="1.72" filter="url(#soft)"/>
<path d="M329.3,477.9 C329.95,476.5 331.67,474.73 333.2,474.1 C334.73,473.47 337.23,473.2 338.5,474.1 C339.77,475 340.53,477.58 340.8,479.5 C341.07,481.42 340.87,484.07 340.1,485.6 C339.33,487.13 337.75,488.32 336.2,488.7 C334.65,489.08 331.95,488.93 330.8,487.9 C329.65,486.87 329.55,484.17 329.3,482.5 C329.05,480.83 328.65,479.3 329.3,477.9Z" fill="#0c320d" fill-opacity="1"/>
<path d="M329.3,477.9 C329.95,476.5 331.67,474.73 333.2,474.1 C334.73,473.47 337.23,473.2 338.5,474.1 C339.77,475 340.53,477.58 340.8,479.5 C341.07,481.42 340.87,484.07 340.1,485.6 C339.33,487.13 337.75,488.32 336.2,488.7 C334.65,489.08 331.95,488.93 330.8,487.9 C329.65,486.87 329.55,484.17 329.3,482.5 C329.05,480.83 328.65,479.3 329.3,477.9Z" fill="none" stroke="#36c036" stroke-width="1.72" filter="url(#soft)"/>
<path d="M364.7,479.5 C365.47,477.7 366.58,475.7 368.5,474.8 C370.42,473.9 373.75,473.83 376.2,474.1 C378.65,474.37 381.15,475.12 383.2,476.4 C385.25,477.68 387.48,479.75 388.5,481.8 C389.52,483.85 389.68,486.53 389.3,488.7 C388.92,490.87 387.87,493.38 386.2,494.8 C384.53,496.22 381.73,496.93 379.3,497.2 C376.87,497.47 373.78,497.3 371.6,496.4 C369.42,495.5 367.48,493.6 366.2,491.8 C364.92,490 364.15,487.65 363.9,485.6 C363.65,483.55 363.93,481.3 364.7,479.5Z" fill="#124a13" fill-opacity="1"/>
<ellipse cx="377.8" cy="485.6" rx="4.26" ry="7.26" fill="none" stroke="#34b834" stroke-width="1.8" filter="url(#soft2)"/>
<ellipse cx="377.8" cy="485.6" rx="3" ry="6" fill="#071a07" filter="url(#soft)"/>
<path d="M364.7,479.5 C365.47,477.7 366.58,475.7 368.5,474.8 C370.42,473.9 373.75,473.83 376.2,474.1 C378.65,474.37 381.15,475.12 383.2,476.4 C385.25,477.68 387.48,479.75 388.5,481.8 C389.52,483.85 389.68,486.53 389.3,488.7 C388.92,490.87 387.87,493.38 386.2,494.8 C384.53,496.22 381.73,496.93 379.3,497.2 C376.87,497.47 373.78,497.3 371.6,496.4 C369.42,495.5 367.48,493.6 366.2,491.8 C364.92,490 364.15,487.65 363.9,485.6 C363.65,483.55 363.93,481.3 364.7,479.5Z" fill="none" stroke="#2a9a2c" stroke-width="1.38" filter="url(#soft)"/>
<path d="M388.5,474.8 C389.65,473.4 392.38,473.58 394.7,474.1 C397.02,474.62 400.6,475.98 402.4,477.9 C404.2,479.82 405.23,483.03 405.5,485.6 C405.77,488.17 405.55,491.77 404,493.3 C402.45,494.83 398.52,495.32 396.2,494.8 C393.88,494.28 391.5,492.25 390.1,490.2 C388.7,488.15 388.07,485.07 387.8,482.5 C387.53,479.93 387.35,476.2 388.5,474.8Z" fill="#0d380f" fill-opacity="1"/>
<path d="M388.5,474.8 C389.65,473.4 392.38,473.58 394.7,474.1 C397.02,474.62 400.6,475.98 402.4,477.9 C404.2,479.82 405.23,483.03 405.5,485.6 C405.77,488.17 405.55,491.77 404,493.3 C402.45,494.83 398.52,495.32 396.2,494.8 C393.88,494.28 391.5,492.25 390.1,490.2 C388.7,488.15 388.07,485.07 387.8,482.5 C387.53,479.93 387.35,476.2 388.5,474.8Z" fill="none" stroke="#1e6a20" stroke-width="1.15" filter="url(#soft)"/>
<path d="M345.5,493.3 C346.27,491.63 348.18,490.13 350.1,489.5 C352.02,488.87 355.33,488.62 357,489.5 C358.67,490.38 359.72,493.13 360.1,494.8 C360.48,496.47 361.73,498.72 359.3,499.5 C356.87,500.28 347.8,500.53 345.5,499.5 C343.2,498.47 344.73,494.97 345.5,493.3Z" fill="#0a2c0b" fill-opacity="1"/>
<path d="M345.5,493.3 C346.27,491.63 348.18,490.13 350.1,489.5 C352.02,488.87 355.33,488.62 357,489.5 C358.67,490.38 359.72,493.13 360.1,494.8 C360.48,496.47 361.73,498.72 359.3,499.5 C356.87,500.28 347.8,500.53 345.5,499.5 C343.2,498.47 344.73,494.97 345.5,493.3Z" fill="none" stroke="#36c036" stroke-width="1.72" filter="url(#soft)"/>
<ellipse cx="330.5" cy="430" rx="2.5" ry="6" fill="#2a9a2a" fill-opacity="1"/>
</g>
<g opacity="0.45" filter="url(#soft)">
<path d="M330.1,451 C330.62,449.2 332.13,448.28 334.7,447.9 C337.27,447.52 341.92,448.32 345.5,448.7 C349.08,449.08 353.13,450.45 356.2,450.2 C359.27,449.95 361.33,448.22 363.9,447.2 C366.47,446.18 368.78,444.75 371.6,444.1 C374.42,443.45 378.1,442.92 380.8,443.3 C383.5,443.68 386.13,444.87 387.8,446.4 C389.47,447.93 390.68,450.32 390.8,452.5 C390.92,454.68 390.17,457.45 388.5,459.5 C386.83,461.55 383.62,463.52 380.8,464.8 C377.98,466.08 374.42,467.07 371.6,467.2 C368.78,467.33 366.2,466.38 363.9,465.6 C361.6,464.82 360.1,463.22 357.8,462.5 C355.5,461.78 352.93,461.68 350.1,461.3 C347.27,460.92 343.88,460.63 340.8,460.2 C337.72,459.77 333.38,460.23 331.6,458.7 C329.82,457.17 329.58,452.8 330.1,451Z" fill="none" stroke="#1a6a1b" stroke-width="0.9"/>
<path d="M340.1,430.2 C340.73,428.53 342.23,426.62 343.9,425.6 C345.57,424.58 347.92,423.97 350.1,424.1 C352.28,424.23 355.6,424.87 357,426.4 C358.4,427.93 358.63,431.12 358.5,433.3 C358.37,435.48 357.6,438.08 356.2,439.5 C354.8,440.92 352.27,441.68 350.1,441.8 C347.93,441.92 344.87,441.23 343.2,440.2 C341.53,439.17 340.62,437.27 340.1,435.6 C339.58,433.93 339.47,431.87 340.1,430.2Z" fill="none" stroke="#30b030" stroke-width="1.3"/>
<path d="M364.7,431.8 C364.83,429.88 365.72,428.23 367,427.2 C368.28,426.17 370.73,425.35 372.4,425.6 C374.07,425.85 375.98,427.17 377,428.7 C378.02,430.23 378.63,432.88 378.5,434.8 C378.37,436.72 377.48,439.03 376.2,440.2 C374.92,441.37 372.47,442.05 370.8,441.8 C369.13,441.55 367.22,440.37 366.2,438.7 C365.18,437.03 364.57,433.72 364.7,431.8Z" fill="none" stroke="#36c036" stroke-width="1.5"/>
<path d="M397.8,467.2 C398.25,465.53 399.6,462.78 400.8,461.8 C402,460.82 404.22,459.63 405,461.3 C405.78,462.97 405.5,469.03 405.5,471.8 C405.5,474.57 405.9,477.13 405,477.9 C404.1,478.67 401.25,477.42 400.1,476.4 C398.95,475.38 398.48,473.33 398.1,471.8 C397.72,470.27 397.35,468.87 397.8,467.2Z" fill="none" stroke="#36c036" stroke-width="1.5"/>
<path d="M329.3,477.9 C329.95,476.5 331.67,474.73 333.2,474.1 C334.73,473.47 337.23,473.2 338.5,474.1 C339.77,475 340.53,477.58 340.8,479.5 C341.07,481.42 340.87,484.07 340.1,485.6 C339.33,487.13 337.75,488.32 336.2,488.7 C334.65,489.08 331.95,488.93 330.8,487.9 C329.65,486.87 329.55,484.17 329.3,482.5 C329.05,480.83 328.65,479.3 329.3,477.9Z" fill="none" stroke="#36c036" stroke-width="1.5"/>
<path d="M364.7,479.5 C365.47,477.7 366.58,475.7 368.5,474.8 C370.42,473.9 373.75,473.83 376.2,474.1 C378.65,474.37 381.15,475.12 383.2,476.4 C385.25,477.68 387.48,479.75 388.5,481.8 C389.52,483.85 389.68,486.53 389.3,488.7 C388.92,490.87 387.87,493.38 386.2,494.8 C384.53,496.22 381.73,496.93 379.3,497.2 C376.87,497.47 373.78,497.3 371.6,496.4 C369.42,495.5 367.48,493.6 366.2,491.8 C364.92,490 364.15,487.65 363.9,485.6 C363.65,483.55 363.93,481.3 364.7,479.5Z" fill="none" stroke="#2a9a2c" stroke-width="1.2"/>
<path d="M388.5,474.8 C389.65,473.4 392.38,473.58 394.7,474.1 C397.02,474.62 400.6,475.98 402.4,477.9 C404.2,479.82 405.23,483.03 405.5,485.6 C405.77,488.17 405.55,491.77 404,493.3 C402.45,494.83 398.52,495.32 396.2,494.8 C393.88,494.28 391.5,492.25 390.1,490.2 C388.7,488.15 388.07,485.07 387.8,482.5 C387.53,479.93 387.35,476.2 388.5,474.8Z" fill="none" stroke="#1e6a20" stroke-width="1"/>
<path d="M345.5,493.3 C346.27,491.63 348.18,490.13 350.1,489.5 C352.02,488.87 355.33,488.62 357,489.5 C358.67,490.38 359.72,493.13 360.1,494.8 C360.48,496.47 361.73,498.72 359.3,499.5 C356.87,500.28 347.8,500.53 345.5,499.5 C343.2,498.47 344.73,494.97 345.5,493.3Z" fill="none" stroke="#36c036" stroke-width="1.5"/>
</g></g>
<rect x="329.3" y="423.5" width="74.6" height="73.9" fill="none" stroke="#000" stroke-width="0.9" stroke-opacity="0.85"/>
<rect x="0.5" y="0.5" width="519" height="558" fill="none" stroke="#000" stroke-width="1"/>
</svg>
</body></html>
